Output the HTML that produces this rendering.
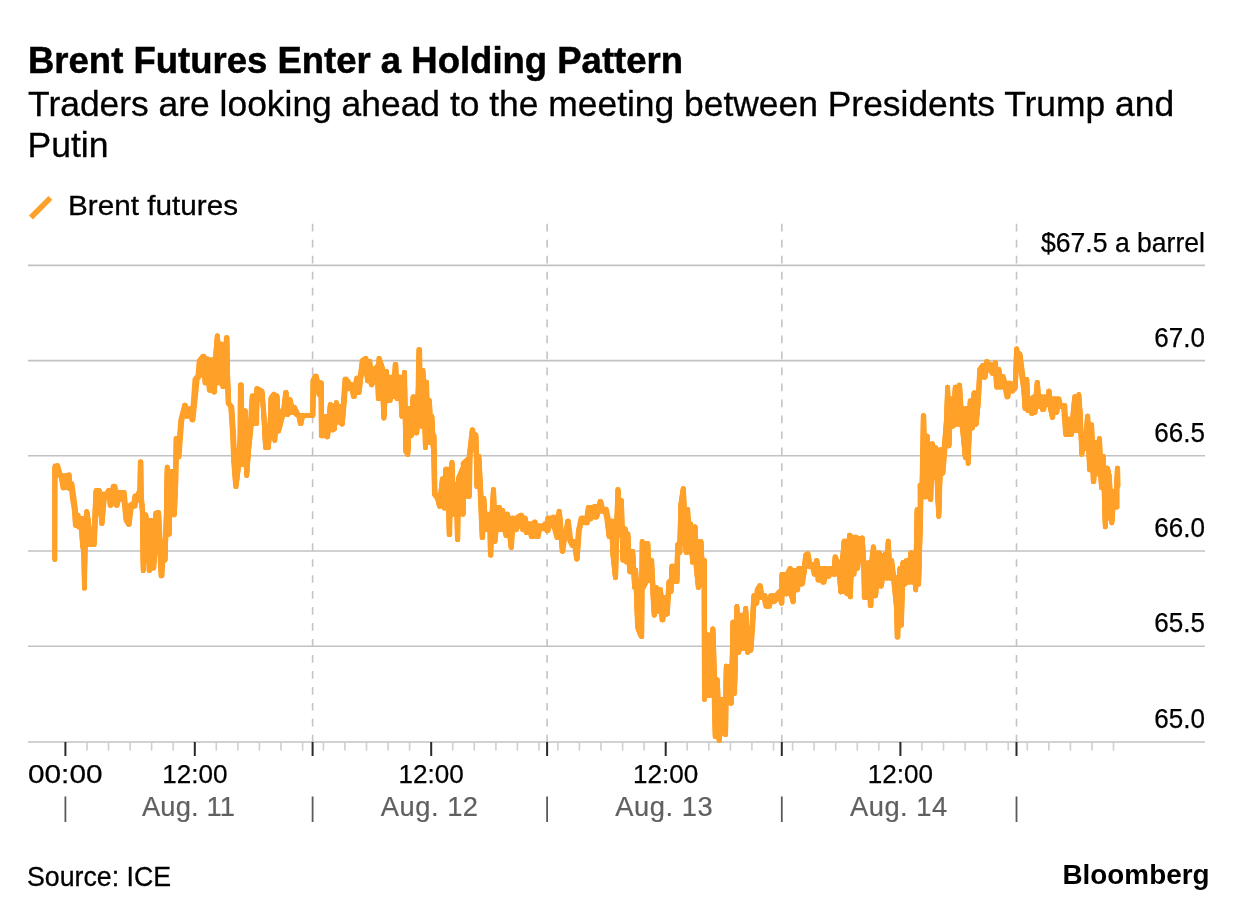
<!DOCTYPE html>
<html lang="en"><head><meta charset="utf-8"><title>Brent Futures Enter a Holding Pattern</title>
<style>
html,body{margin:0;padding:0;background:#fff;}
body{width:1237px;height:918px;overflow:hidden;}
svg{display:block;font-family:"Liberation Sans",Arial,Helvetica,sans-serif;}
.t{fill:#000;}
.g{fill:#606060;}
</style></head><body>
<svg width="1237" height="918" viewBox="0 0 1237 918">
<rect width="1237" height="918" fill="#fff"/>

<text class="t" x="28" y="72.8" font-size="37.2" font-weight="700" stroke="#000" stroke-width="0.5" textLength="655" lengthAdjust="spacingAndGlyphs">Brent Futures Enter a Holding Pattern</text>
<text class="t" x="28.1" y="115.5" font-size="35" stroke="#000" stroke-width="0.3" textLength="1146" lengthAdjust="spacingAndGlyphs">Traders are looking ahead to the meeting between Presidents Trump and</text>
<text class="t" x="27.5" y="157.1" font-size="35" stroke="#000" stroke-width="0.3" textLength="81" lengthAdjust="spacingAndGlyphs">Putin</text>
<line x1="30.9" y1="217.5" x2="50.4" y2="197.9" stroke="#FFA029" stroke-width="5.6"/>
<text class="t" x="68" y="215.3" font-size="28.4" stroke="#000" stroke-width="0.3" textLength="170" lengthAdjust="spacingAndGlyphs">Brent futures</text>
<line x1="28" y1="265.4" x2="1205" y2="265.4" stroke="#c2c2c2" stroke-width="1.6"/>
<line x1="28" y1="360.6" x2="1205" y2="360.6" stroke="#c2c2c2" stroke-width="1.6"/>
<line x1="28" y1="455.8" x2="1205" y2="455.8" stroke="#c2c2c2" stroke-width="1.6"/>
<line x1="28" y1="551.0" x2="1205" y2="551.0" stroke="#c2c2c2" stroke-width="1.6"/>
<line x1="28" y1="646.3" x2="1205" y2="646.3" stroke="#c2c2c2" stroke-width="1.6"/>
<line x1="312.6" y1="223.8" x2="312.6" y2="742.0" stroke="#c4c4c4" stroke-width="1.6" stroke-dasharray="7.7 8.27"/>
<line x1="547.1" y1="223.8" x2="547.1" y2="742.0" stroke="#c4c4c4" stroke-width="1.6" stroke-dasharray="7.7 8.27"/>
<line x1="781.8" y1="223.8" x2="781.8" y2="742.0" stroke="#c4c4c4" stroke-width="1.6" stroke-dasharray="7.7 8.27"/>
<line x1="1016.5" y1="223.8" x2="1016.5" y2="742.0" stroke="#c4c4c4" stroke-width="1.6" stroke-dasharray="7.7 8.27"/>
<line x1="28" y1="742.0" x2="1205" y2="742.0" stroke="#c2c2c2" stroke-width="1.6"/>
<line x1="87.0" y1="742.0" x2="87.0" y2="750.6" stroke="#cfcfcf" stroke-width="1.6"/>
<line x1="108.5" y1="742.0" x2="108.5" y2="750.6" stroke="#cfcfcf" stroke-width="1.6"/>
<line x1="130.1" y1="742.0" x2="130.1" y2="750.6" stroke="#cfcfcf" stroke-width="1.6"/>
<line x1="151.6" y1="742.0" x2="151.6" y2="750.6" stroke="#cfcfcf" stroke-width="1.6"/>
<line x1="173.2" y1="742.0" x2="173.2" y2="750.6" stroke="#cfcfcf" stroke-width="1.6"/>
<line x1="194.8" y1="742.0" x2="194.8" y2="750.6" stroke="#cfcfcf" stroke-width="1.6"/>
<line x1="216.3" y1="742.0" x2="216.3" y2="750.6" stroke="#cfcfcf" stroke-width="1.6"/>
<line x1="237.9" y1="742.0" x2="237.9" y2="750.6" stroke="#cfcfcf" stroke-width="1.6"/>
<line x1="259.4" y1="742.0" x2="259.4" y2="750.6" stroke="#cfcfcf" stroke-width="1.6"/>
<line x1="281.0" y1="742.0" x2="281.0" y2="750.6" stroke="#cfcfcf" stroke-width="1.6"/>
<line x1="302.6" y1="742.0" x2="302.6" y2="750.6" stroke="#cfcfcf" stroke-width="1.6"/>
<line x1="323.4" y1="742.0" x2="323.4" y2="750.6" stroke="#cfcfcf" stroke-width="1.6"/>
<line x1="344.9" y1="742.0" x2="344.9" y2="750.6" stroke="#cfcfcf" stroke-width="1.6"/>
<line x1="366.5" y1="742.0" x2="366.5" y2="750.6" stroke="#cfcfcf" stroke-width="1.6"/>
<line x1="388.1" y1="742.0" x2="388.1" y2="750.6" stroke="#cfcfcf" stroke-width="1.6"/>
<line x1="409.6" y1="742.0" x2="409.6" y2="750.6" stroke="#cfcfcf" stroke-width="1.6"/>
<line x1="431.2" y1="742.0" x2="431.2" y2="750.6" stroke="#cfcfcf" stroke-width="1.6"/>
<line x1="452.7" y1="742.0" x2="452.7" y2="750.6" stroke="#cfcfcf" stroke-width="1.6"/>
<line x1="474.3" y1="742.0" x2="474.3" y2="750.6" stroke="#cfcfcf" stroke-width="1.6"/>
<line x1="495.9" y1="742.0" x2="495.9" y2="750.6" stroke="#cfcfcf" stroke-width="1.6"/>
<line x1="517.4" y1="742.0" x2="517.4" y2="750.6" stroke="#cfcfcf" stroke-width="1.6"/>
<line x1="539.0" y1="742.0" x2="539.0" y2="750.6" stroke="#cfcfcf" stroke-width="1.6"/>
<line x1="557.9" y1="742.0" x2="557.9" y2="750.6" stroke="#cfcfcf" stroke-width="1.6"/>
<line x1="579.4" y1="742.0" x2="579.4" y2="750.6" stroke="#cfcfcf" stroke-width="1.6"/>
<line x1="601.0" y1="742.0" x2="601.0" y2="750.6" stroke="#cfcfcf" stroke-width="1.6"/>
<line x1="622.6" y1="742.0" x2="622.6" y2="750.6" stroke="#cfcfcf" stroke-width="1.6"/>
<line x1="644.1" y1="742.0" x2="644.1" y2="750.6" stroke="#cfcfcf" stroke-width="1.6"/>
<line x1="665.7" y1="742.0" x2="665.7" y2="750.6" stroke="#cfcfcf" stroke-width="1.6"/>
<line x1="687.2" y1="742.0" x2="687.2" y2="750.6" stroke="#cfcfcf" stroke-width="1.6"/>
<line x1="708.8" y1="742.0" x2="708.8" y2="750.6" stroke="#cfcfcf" stroke-width="1.6"/>
<line x1="730.4" y1="742.0" x2="730.4" y2="750.6" stroke="#cfcfcf" stroke-width="1.6"/>
<line x1="751.9" y1="742.0" x2="751.9" y2="750.6" stroke="#cfcfcf" stroke-width="1.6"/>
<line x1="773.5" y1="742.0" x2="773.5" y2="750.6" stroke="#cfcfcf" stroke-width="1.6"/>
<line x1="792.6" y1="742.0" x2="792.6" y2="750.6" stroke="#cfcfcf" stroke-width="1.6"/>
<line x1="814.1" y1="742.0" x2="814.1" y2="750.6" stroke="#cfcfcf" stroke-width="1.6"/>
<line x1="835.7" y1="742.0" x2="835.7" y2="750.6" stroke="#cfcfcf" stroke-width="1.6"/>
<line x1="857.3" y1="742.0" x2="857.3" y2="750.6" stroke="#cfcfcf" stroke-width="1.6"/>
<line x1="878.8" y1="742.0" x2="878.8" y2="750.6" stroke="#cfcfcf" stroke-width="1.6"/>
<line x1="900.4" y1="742.0" x2="900.4" y2="750.6" stroke="#cfcfcf" stroke-width="1.6"/>
<line x1="921.9" y1="742.0" x2="921.9" y2="750.6" stroke="#cfcfcf" stroke-width="1.6"/>
<line x1="943.5" y1="742.0" x2="943.5" y2="750.6" stroke="#cfcfcf" stroke-width="1.6"/>
<line x1="965.1" y1="742.0" x2="965.1" y2="750.6" stroke="#cfcfcf" stroke-width="1.6"/>
<line x1="986.6" y1="742.0" x2="986.6" y2="750.6" stroke="#cfcfcf" stroke-width="1.6"/>
<line x1="1008.2" y1="742.0" x2="1008.2" y2="750.6" stroke="#cfcfcf" stroke-width="1.6"/>
<line x1="1027.3" y1="742.0" x2="1027.3" y2="750.6" stroke="#cfcfcf" stroke-width="1.6"/>
<line x1="1048.8" y1="742.0" x2="1048.8" y2="750.6" stroke="#cfcfcf" stroke-width="1.6"/>
<line x1="1070.4" y1="742.0" x2="1070.4" y2="750.6" stroke="#cfcfcf" stroke-width="1.6"/>
<line x1="1092.0" y1="742.0" x2="1092.0" y2="750.6" stroke="#cfcfcf" stroke-width="1.6"/>
<line x1="1113.5" y1="742.0" x2="1113.5" y2="750.6" stroke="#cfcfcf" stroke-width="1.6"/>
<line x1="65.4" y1="742.0" x2="65.4" y2="756" stroke="#2a2a2a" stroke-width="2"/>
<line x1="194.8" y1="742.0" x2="194.8" y2="756" stroke="#2a2a2a" stroke-width="2"/>
<line x1="312.6" y1="742.0" x2="312.6" y2="756" stroke="#2a2a2a" stroke-width="2"/>
<line x1="547.1" y1="742.0" x2="547.1" y2="756" stroke="#2a2a2a" stroke-width="2"/>
<line x1="781.8" y1="742.0" x2="781.8" y2="756" stroke="#2a2a2a" stroke-width="2"/>
<line x1="1016.5" y1="742.0" x2="1016.5" y2="756" stroke="#2a2a2a" stroke-width="2"/>
<line x1="431.2" y1="742.0" x2="431.2" y2="756" stroke="#2a2a2a" stroke-width="2"/>
<line x1="665.7" y1="742.0" x2="665.7" y2="756" stroke="#2a2a2a" stroke-width="2"/>
<line x1="900.4" y1="742.0" x2="900.4" y2="756" stroke="#2a2a2a" stroke-width="2"/>
<path d="M54.8 465.8 L55.3 465.8 L55.8 465.8 L56.3 465.8 L56.8 465.8 L57.3 465.8 L57.8 466.6 L58.3 469.2 L58.8 471.8 L59.3 473.4 L59.8 474.0 L60.3 474.6 L60.8 475.1 L61.3 475.6 L61.8 475.6 L62.3 475.6 L62.8 475.6 L63.3 475.6 L63.8 475.6 L64.3 475.6 L64.8 475.6 L65.3 475.6 L65.8 475.6 L66.3 475.6 L66.8 475.4 L67.3 475.3 L67.8 475.1 L68.3 475.0 L68.8 474.9 L69.3 479.2 L69.8 483.6 L70.3 483.6 L70.8 483.6 L71.3 483.6 L71.8 484.8 L72.3 488.9 L72.8 493.0 L73.3 497.1 L73.8 500.6 L74.3 503.9 L74.8 507.3 L75.3 512.6 L75.8 514.9 L76.3 514.9 L76.8 514.9 L77.3 514.9 L77.8 515.3 L78.3 518.4 L78.8 518.4 L79.3 518.4 L79.8 518.4 L80.3 518.4 L80.8 518.4 L81.3 518.4 L81.8 518.4 L82.3 518.4 L82.8 518.4 L83.3 518.4 L83.8 518.4 L84.3 518.4 L84.8 518.4 L85.3 518.4 L85.8 518.4 L86.3 513.8 L86.8 511.5 L87.3 513.5 L87.8 516.4 L88.3 519.3 L88.8 522.6 L89.3 529.2 L89.8 529.2 L90.3 529.2 L90.8 529.2 L91.3 529.2 L91.8 529.2 L92.3 529.2 L92.8 529.2 L93.3 529.2 L93.8 529.2 L94.3 529.2 L94.8 518.4 L95.3 505.6 L95.8 491.9 L96.3 490.5 L96.8 490.5 L97.3 490.5 L97.8 490.5 L98.3 490.5 L98.8 490.5 L99.3 490.5 L99.8 493.9 L100.3 494.0 L100.8 494.0 L101.3 494.0 L101.8 494.0 L102.3 494.0 L102.8 494.0 L103.3 494.0 L103.8 494.0 L104.3 494.0 L104.8 494.0 L105.3 494.0 L105.8 494.0 L106.3 494.0 L106.8 494.0 L107.3 493.9 L107.8 492.5 L108.3 491.2 L108.8 490.5 L109.3 490.5 L109.8 490.5 L110.3 490.5 L110.8 490.5 L111.3 490.5 L111.8 490.5 L112.3 490.5 L112.8 489.8 L113.3 488.1 L113.8 486.4 L114.3 486.2 L114.8 487.8 L115.3 489.6 L115.8 491.4 L116.3 492.3 L116.8 492.3 L117.3 492.3 L117.8 492.3 L118.3 492.3 L118.8 492.3 L119.3 492.3 L119.8 492.3 L120.3 492.3 L120.8 492.3 L121.3 492.3 L121.8 492.3 L122.3 492.3 L122.8 492.3 L123.3 492.3 L123.8 492.3 L124.3 495.9 L124.8 501.0 L125.3 506.1 L125.8 506.4 L126.3 506.4 L126.8 506.4 L127.3 506.4 L127.8 506.4 L128.3 506.4 L128.8 506.4 L129.3 506.4 L129.8 506.4 L130.3 506.4 L130.8 506.4 L131.3 504.5 L131.8 504.5 L132.3 504.5 L132.8 504.5 L133.3 504.5 L133.8 504.5 L134.3 503.6 L134.8 500.7 L135.3 497.8 L135.8 495.8 L136.3 495.8 L136.8 495.8 L137.3 495.8 L137.8 495.8 L138.3 495.7 L138.8 493.4 L139.3 492.3 L139.8 492.3 L140.3 464.8 L140.8 461.8 L141.3 497.9 L141.8 502.0 L142.3 506.0 L142.8 514.1 L143.3 514.9 L143.8 514.9 L144.3 514.9 L144.8 514.9 L145.3 514.9 L145.8 514.9 L146.3 517.6 L146.8 520.2 L147.3 520.2 L147.8 520.2 L148.3 520.2 L148.8 520.2 L149.3 520.2 L149.8 520.2 L150.3 520.2 L150.8 520.2 L151.3 520.2 L151.8 520.2 L152.3 520.2 L152.8 520.2 L153.3 520.2 L153.8 520.2 L154.3 520.2 L154.8 520.2 L155.3 520.2 L155.8 513.1 L156.3 513.0 L156.8 512.8 L157.3 512.6 L157.8 512.5 L158.3 512.3 L158.8 513.5 L159.3 525.0 L159.8 536.5 L160.3 541.7 L160.8 541.7 L161.3 541.7 L161.8 541.7 L162.3 541.7 L162.8 541.7 L163.3 541.7 L163.8 541.7 L164.3 541.7 L164.8 541.7 L165.3 541.7 L165.8 524.9 L166.3 506.6 L166.8 476.1 L167.3 467.0 L167.8 471.4 L168.3 471.4 L168.8 471.4 L169.3 471.4 L169.8 471.4 L170.3 471.4 L170.8 471.4 L171.3 471.4 L171.8 471.4 L172.3 471.4 L172.8 471.4 L173.3 471.4 L173.8 471.4 L174.3 471.4 L174.8 471.4 L175.3 471.4 L175.8 454.6 L176.3 438.5 L176.8 438.5 L177.3 438.5 L177.8 438.5 L178.3 438.5 L178.8 438.5 L179.3 438.5 L179.8 436.5 L180.3 429.9 L180.8 423.3 L181.3 419.0 L181.8 417.0 L182.3 415.0 L182.8 413.0 L183.3 411.0 L183.8 409.0 L184.3 407.0 L184.8 405.2 L185.3 405.5 L185.8 408.4 L186.3 408.9 L186.8 408.9 L187.3 408.9 L187.8 408.9 L188.3 408.9 L188.8 408.9 L189.3 408.9 L189.8 408.9 L190.3 408.9 L190.8 408.9 L191.3 408.9 L191.8 408.9 L192.3 408.9 L192.8 408.9 L193.3 407.7 L193.8 402.3 L194.3 396.8 L194.8 391.1 L195.3 385.5 L195.8 379.9 L196.3 378.7 L196.8 378.0 L197.3 377.4 L197.8 376.7 L198.3 376.1 L198.8 373.1 L199.3 364.8 L199.8 360.4 L200.3 359.8 L200.8 359.1 L201.3 358.5 L201.8 357.9 L202.3 357.3 L202.8 356.7 L203.3 356.1 L203.8 356.8 L204.3 358.9 L204.8 358.9 L205.3 358.9 L205.8 358.9 L206.3 358.9 L206.8 358.9 L207.3 358.9 L207.8 359.8 L208.3 359.8 L208.8 359.8 L209.3 359.8 L209.8 359.8 L210.3 359.8 L210.8 359.8 L211.3 359.8 L211.8 359.8 L212.3 359.8 L212.8 359.8 L213.3 359.8 L213.8 359.8 L214.3 359.8 L214.8 359.8 L215.3 359.8 L215.8 354.4 L216.3 347.5 L216.8 340.6 L217.3 335.7 L217.8 339.4 L218.3 344.1 L218.8 344.1 L219.3 344.1 L219.8 344.1 L220.3 344.1 L220.8 344.1 L221.3 344.1 L221.8 344.1 L222.3 344.1 L222.8 344.1 L223.3 344.1 L223.8 344.1 L224.3 344.1 L224.8 344.1 L225.3 344.1 L225.8 344.1 L226.3 344.1 L226.8 337.6 L227.3 356.6 L227.8 379.4 L228.3 392.0 L228.8 403.4 L229.3 404.0 L229.8 404.7 L230.3 405.3 L230.8 406.0 L231.3 406.7 L231.8 410.9 L232.3 418.6 L232.8 426.3 L233.3 434.0 L233.8 446.5 L234.3 450.2 L234.8 450.2 L235.3 450.2 L235.8 450.2 L236.3 450.2 L236.8 450.2 L237.3 450.2 L237.8 450.2 L238.3 450.2 L238.8 450.2 L239.3 450.2 L239.8 445.0 L240.3 433.4 L240.8 384.8 L241.3 401.5 L241.8 410.7 L242.3 410.7 L242.8 410.7 L243.3 410.7 L243.8 410.7 L244.3 410.7 L244.8 410.7 L245.3 410.7 L245.8 421.6 L246.3 421.6 L246.8 421.6 L247.3 421.6 L247.8 421.6 L248.3 421.6 L248.8 421.6 L249.3 421.6 L249.8 421.6 L250.3 421.6 L250.8 421.6 L251.3 413.3 L251.8 405.0 L252.3 396.7 L252.8 395.9 L253.3 395.9 L253.8 395.9 L254.3 395.9 L254.8 395.9 L255.3 395.9 L255.8 395.9 L256.3 395.9 L256.8 388.5 L257.3 388.5 L257.8 388.8 L258.3 389.1 L258.8 389.4 L259.3 389.7 L259.8 390.0 L260.3 390.2 L260.8 390.5 L261.3 390.8 L261.8 391.1 L262.3 393.1 L262.8 399.0 L263.3 404.9 L263.8 410.8 L264.3 419.1 L264.8 425.6 L265.3 425.6 L265.8 425.6 L266.3 425.6 L266.8 425.6 L267.3 425.6 L267.8 425.6 L268.3 425.6 L268.8 425.6 L269.3 425.6 L269.8 425.6 L270.3 413.6 L270.8 399.2 L271.3 397.2 L271.8 396.5 L272.3 395.9 L272.8 395.2 L273.3 394.6 L273.8 394.1 L274.3 395.9 L274.8 395.9 L275.3 395.9 L275.8 395.9 L276.3 395.9 L276.8 395.9 L277.3 397.1 L277.8 408.8 L278.3 411.1 L278.8 411.1 L279.3 411.1 L279.8 411.1 L280.3 411.1 L280.8 411.1 L281.3 411.1 L281.8 411.1 L282.3 411.1 L282.8 411.1 L283.3 411.1 L283.8 409.1 L284.3 404.7 L284.8 400.1 L285.3 395.4 L285.8 392.2 L286.3 394.0 L286.8 399.6 L287.3 399.6 L287.8 399.6 L288.3 399.6 L288.8 399.6 L289.3 399.6 L289.8 399.6 L290.3 401.7 L290.8 404.0 L291.3 406.3 L291.8 407.0 L292.3 407.0 L292.8 407.0 L293.3 407.0 L293.8 407.5 L294.3 408.5 L294.8 409.5 L295.3 410.5 L295.8 411.5 L296.3 412.5 L296.8 413.5 L297.3 414.4 L297.8 414.8 L298.3 415.1 L298.8 415.4 L299.3 415.4 L299.8 415.4 L300.3 415.4 L300.8 415.4 L301.3 415.4 L301.8 415.4 L302.3 415.4 L302.8 415.4 L303.3 415.4 L303.8 415.4 L304.3 415.4 L304.8 415.4 L305.3 415.4 L305.8 415.4 L306.3 415.4 L306.8 415.4 L307.3 415.4 L307.8 415.4 L308.3 415.4 L308.8 415.4 L309.3 415.4 L309.8 415.4 L310.3 415.4 L310.8 415.4 L311.3 415.4 L311.8 415.4 L312.3 415.4 L312.8 398.2 L313.3 380.5 L313.8 379.5 L314.3 378.4 L314.8 377.4 L315.3 376.4 L315.8 376.1 L316.3 377.7 L316.8 380.0 L317.3 382.4 L317.8 382.9 L318.3 382.9 L318.8 382.9 L319.3 382.9 L319.8 382.9 L320.3 382.9 L320.8 382.9 L321.3 382.9 L321.8 416.3 L322.3 416.3 L322.8 416.3 L323.3 416.3 L323.8 416.3 L324.3 416.3 L324.8 416.3 L325.3 416.3 L325.8 416.3 L326.3 416.3 L326.8 416.3 L327.3 416.3 L327.8 416.3 L328.3 416.3 L328.8 416.3 L329.3 414.0 L329.8 408.4 L330.3 404.5 L330.8 405.8 L331.3 405.8 L331.8 405.8 L332.3 405.8 L332.8 405.8 L333.3 405.8 L333.8 405.8 L334.3 405.8 L334.8 405.8 L335.3 405.8 L335.8 405.8 L336.3 402.5 L336.8 403.3 L337.3 404.8 L337.8 406.4 L338.3 406.4 L338.8 406.4 L339.3 406.4 L339.8 406.4 L340.3 406.4 L340.8 406.4 L341.3 406.4 L341.8 406.4 L342.3 406.4 L342.8 406.4 L343.3 406.0 L343.8 399.3 L344.3 392.3 L344.8 385.3 L345.3 379.0 L345.8 379.1 L346.3 379.7 L346.8 380.3 L347.3 380.9 L347.8 381.5 L348.3 382.2 L348.8 383.9 L349.3 384.9 L349.8 384.9 L350.3 384.9 L350.8 384.9 L351.3 384.9 L351.8 384.9 L352.3 384.9 L352.8 384.9 L353.3 384.9 L353.8 384.9 L354.3 384.9 L354.8 384.9 L355.3 384.9 L355.8 383.3 L356.3 380.2 L356.8 378.0 L357.3 378.0 L357.8 378.0 L358.3 378.0 L358.8 378.0 L359.3 378.0 L359.8 378.0 L360.3 377.3 L360.8 373.2 L361.3 369.3 L361.8 365.4 L362.3 361.6 L362.8 360.2 L363.3 359.8 L363.8 359.5 L364.3 359.2 L364.8 358.8 L365.3 358.5 L365.8 358.4 L366.3 361.4 L366.8 361.4 L367.3 361.4 L367.8 361.4 L368.3 361.4 L368.8 361.4 L369.3 361.4 L369.8 361.4 L370.3 366.7 L370.8 368.5 L371.3 368.5 L371.8 368.5 L372.3 368.5 L372.8 368.5 L373.3 368.5 L373.8 368.5 L374.3 368.5 L374.8 368.5 L375.3 368.5 L375.8 368.5 L376.3 367.9 L376.8 367.2 L377.3 366.5 L377.8 366.3 L378.3 366.3 L378.8 361.3 L379.3 358.4 L379.8 359.9 L380.3 361.5 L380.8 363.1 L381.3 364.8 L381.8 366.4 L382.3 368.1 L382.8 371.2 L383.3 371.2 L383.8 371.2 L384.3 371.2 L384.8 371.2 L385.3 371.2 L385.8 371.2 L386.3 371.2 L386.8 374.3 L387.3 377.1 L387.8 377.1 L388.3 377.1 L388.8 377.1 L389.3 377.1 L389.8 377.1 L390.3 377.1 L390.8 377.1 L391.3 377.1 L391.8 377.1 L392.3 377.1 L392.8 377.1 L393.3 377.1 L393.8 377.1 L394.3 377.1 L394.8 372.4 L395.3 364.3 L395.8 365.4 L396.3 376.1 L396.8 377.1 L397.3 377.1 L397.8 377.1 L398.3 377.1 L398.8 377.1 L399.3 377.1 L399.8 377.1 L400.3 377.1 L400.8 377.1 L401.3 377.1 L401.8 377.1 L402.3 377.1 L402.8 377.1 L403.3 377.1 L403.8 377.1 L404.3 372.2 L404.8 375.0 L405.3 403.4 L405.8 408.4 L406.3 408.4 L406.8 408.4 L407.3 408.4 L407.8 408.4 L408.3 408.4 L408.8 408.4 L409.3 408.4 L409.8 408.4 L410.3 408.4 L410.8 408.4 L411.3 408.4 L411.8 408.4 L412.3 408.0 L412.8 397.7 L413.3 396.7 L413.8 396.7 L414.3 396.7 L414.8 396.7 L415.3 396.7 L415.8 396.7 L416.3 396.7 L416.8 396.7 L417.3 396.7 L417.8 396.7 L418.3 386.0 L418.8 358.0 L419.3 349.6 L419.8 369.2 L420.3 370.2 L420.8 370.2 L421.3 370.2 L421.8 370.2 L422.3 370.2 L422.8 370.2 L423.3 373.8 L423.8 382.0 L424.3 382.0 L424.8 382.0 L425.3 382.0 L425.8 382.0 L426.3 382.0 L426.8 384.3 L427.3 400.6 L427.8 400.6 L428.3 400.6 L428.8 400.6 L429.3 400.6 L429.8 405.3 L430.3 416.3 L430.8 416.3 L431.3 416.3 L431.8 416.3 L432.3 421.5 L432.8 432.0 L433.3 435.7 L433.8 435.7 L434.3 456.3 L434.8 485.7 L435.3 495.0 L435.8 495.0 L436.3 495.0 L436.8 495.0 L437.3 495.0 L437.8 495.0 L438.3 495.0 L438.8 495.0 L439.3 495.0 L439.8 495.0 L440.3 495.0 L440.8 492.6 L441.3 487.8 L441.8 483.1 L442.3 478.8 L442.8 478.8 L443.3 478.8 L443.8 478.8 L444.3 478.8 L444.8 478.8 L445.3 478.8 L445.8 469.0 L446.3 469.0 L446.8 469.0 L447.3 469.0 L447.8 469.0 L448.3 469.0 L448.8 469.0 L449.3 469.0 L449.8 469.0 L450.3 469.0 L450.8 469.0 L451.3 467.5 L451.8 462.2 L452.3 464.2 L452.8 484.2 L453.3 484.2 L453.8 484.2 L454.3 484.2 L454.8 484.2 L455.3 484.2 L455.8 484.2 L456.3 484.2 L456.8 484.2 L457.3 484.2 L457.8 484.2 L458.3 478.2 L458.8 477.0 L459.3 475.8 L459.8 474.6 L460.3 473.4 L460.8 472.2 L461.3 471.0 L461.8 469.8 L462.3 469.0 L462.8 469.0 L463.3 469.0 L463.8 462.9 L464.3 462.5 L464.8 462.0 L465.3 461.6 L465.8 461.1 L466.3 460.7 L466.8 460.3 L467.3 459.9 L467.8 459.4 L468.3 459.2 L468.8 459.2 L469.3 459.2 L469.8 452.1 L470.3 447.6 L470.8 443.0 L471.3 438.5 L471.8 433.9 L472.3 429.8 L472.8 430.5 L473.3 434.7 L473.8 434.7 L474.3 434.7 L474.8 434.7 L475.3 434.7 L475.8 434.7 L476.3 442.5 L476.8 456.3 L477.3 456.3 L477.8 456.3 L478.3 456.3 L478.8 456.3 L479.3 461.6 L479.8 472.1 L480.3 482.6 L480.8 493.1 L481.3 498.4 L481.8 498.4 L482.3 498.4 L482.8 498.4 L483.3 498.4 L483.8 498.4 L484.3 503.9 L484.8 511.7 L485.3 514.1 L485.8 514.1 L486.3 514.1 L486.8 514.1 L487.3 514.1 L487.8 514.1 L488.3 514.1 L488.8 514.1 L489.3 514.1 L489.8 514.1 L490.3 514.1 L490.8 514.1 L491.3 514.1 L491.8 514.1 L492.3 507.0 L492.8 497.8 L493.3 489.6 L493.8 491.5 L494.3 507.3 L494.8 507.3 L495.3 507.3 L495.8 507.3 L496.3 507.3 L496.8 507.3 L497.3 507.3 L497.8 507.3 L498.3 507.3 L498.8 507.3 L499.3 507.3 L499.8 509.7 L500.3 510.2 L500.8 510.2 L501.3 510.2 L501.8 510.2 L502.3 510.2 L502.8 511.4 L503.3 514.1 L503.8 514.1 L504.3 514.1 L504.8 514.1 L505.3 514.1 L505.8 514.1 L506.3 514.1 L506.8 514.1 L507.3 514.1 L507.8 515.9 L508.3 518.0 L508.8 518.0 L509.3 518.0 L509.8 518.0 L510.3 518.0 L510.8 518.0 L511.3 518.0 L511.8 518.0 L512.3 518.0 L512.8 518.0 L513.3 518.0 L513.8 518.0 L514.3 518.0 L514.8 518.0 L515.3 518.0 L515.8 518.0 L516.3 518.0 L516.8 518.0 L517.3 518.0 L517.8 517.1 L518.3 516.7 L518.8 516.4 L519.3 516.1 L519.8 515.7 L520.3 515.4 L520.8 515.1 L521.3 515.5 L521.8 518.0 L522.3 518.0 L522.8 518.0 L523.3 518.0 L523.8 518.0 L524.3 518.0 L524.8 518.0 L525.3 519.1 L525.8 522.8 L526.3 523.9 L526.8 523.9 L527.3 523.9 L527.8 523.9 L528.3 523.9 L528.8 523.9 L529.3 523.9 L529.8 523.9 L530.3 523.9 L530.8 523.9 L531.3 523.9 L531.8 523.9 L532.3 523.9 L532.8 523.9 L533.3 523.9 L533.8 523.9 L534.3 522.8 L534.8 522.0 L535.3 523.8 L535.8 525.9 L536.3 525.9 L536.8 525.9 L537.3 525.9 L537.8 525.9 L538.3 525.9 L538.8 525.9 L539.3 525.9 L539.8 525.9 L540.3 525.9 L540.8 525.9 L541.3 525.9 L541.8 525.9 L542.3 525.9 L542.8 525.9 L543.3 525.9 L543.8 525.9 L544.3 525.5 L544.8 524.6 L545.3 523.9 L545.8 523.9 L546.3 523.9 L546.8 523.9 L547.3 523.9 L547.8 523.0 L548.3 518.0 L548.8 518.0 L549.3 518.0 L549.8 518.0 L550.3 518.0 L550.8 518.0 L551.3 518.0 L551.8 518.0 L552.3 518.0 L552.8 517.9 L553.3 517.1 L553.8 517.1 L554.3 517.1 L554.8 517.1 L555.3 517.1 L555.8 517.1 L556.3 517.1 L556.8 517.1 L557.3 517.1 L557.8 517.1 L558.3 517.1 L558.8 513.3 L559.3 511.2 L559.8 515.1 L560.3 520.8 L560.8 526.4 L561.3 532.0 L561.8 532.0 L562.3 532.0 L562.8 532.0 L563.3 532.0 L563.8 532.0 L564.3 532.0 L564.8 532.0 L565.3 532.0 L565.8 532.0 L566.3 532.0 L566.8 528.4 L567.3 524.5 L567.8 521.0 L568.3 521.5 L568.8 526.1 L569.3 530.8 L569.8 535.4 L570.3 539.7 L570.8 540.7 L571.3 541.6 L571.8 541.6 L572.3 541.6 L572.8 541.6 L573.3 541.6 L573.8 541.6 L574.3 541.6 L574.8 541.6 L575.3 541.6 L575.8 541.6 L576.3 541.6 L576.8 541.6 L577.3 541.6 L577.8 541.6 L578.3 534.5 L578.8 529.7 L579.3 527.6 L579.8 525.5 L580.3 523.3 L580.8 521.2 L581.3 519.1 L581.8 518.0 L582.3 518.0 L582.8 518.0 L583.3 518.0 L583.8 518.0 L584.3 518.0 L584.8 518.0 L585.3 518.0 L585.8 518.0 L586.3 518.0 L586.8 518.0 L587.3 515.9 L587.8 511.8 L588.3 507.7 L588.8 507.3 L589.3 507.3 L589.8 507.3 L590.3 507.3 L590.8 507.3 L591.3 507.3 L591.8 507.3 L592.3 507.3 L592.8 507.3 L593.3 507.3 L593.8 507.3 L594.3 506.3 L594.8 506.3 L595.3 506.3 L595.8 506.3 L596.3 506.3 L596.8 506.3 L597.3 506.3 L597.8 506.3 L598.3 506.3 L598.8 506.3 L599.3 504.8 L599.8 502.8 L600.3 501.4 L600.8 502.1 L601.3 504.6 L601.8 507.0 L602.3 509.2 L602.8 509.2 L603.3 509.2 L603.8 509.2 L604.3 509.2 L604.8 509.2 L605.3 509.2 L605.8 510.2 L606.3 512.2 L606.8 514.1 L607.3 516.1 L607.8 519.7 L608.3 521.0 L608.8 521.0 L609.3 521.0 L609.8 521.0 L610.3 521.0 L610.8 521.0 L611.3 521.0 L611.8 521.0 L612.3 521.0 L612.8 521.0 L613.3 521.0 L613.8 521.0 L614.3 521.0 L614.8 521.0 L615.3 521.0 L615.8 521.0 L616.3 521.0 L616.8 518.2 L617.3 503.2 L617.8 489.6 L618.3 490.3 L618.8 497.7 L619.3 500.4 L619.8 500.4 L620.3 500.4 L620.8 500.4 L621.3 500.4 L621.8 506.4 L622.3 526.3 L622.8 528.8 L623.3 528.8 L623.8 528.8 L624.3 528.8 L624.8 528.8 L625.3 531.3 L625.8 533.7 L626.3 533.7 L626.8 533.7 L627.3 533.7 L627.8 533.7 L628.3 538.5 L628.8 548.1 L629.3 551.4 L629.8 551.4 L630.3 551.4 L630.8 551.4 L631.3 551.4 L631.8 551.4 L632.3 551.4 L632.8 551.4 L633.3 557.7 L633.8 566.8 L634.3 570.0 L634.8 570.0 L635.3 570.0 L635.8 570.0 L636.3 580.5 L636.8 580.5 L637.3 580.5 L637.8 580.5 L638.3 580.5 L638.8 580.5 L639.3 580.5 L639.8 580.5 L640.3 580.5 L640.8 580.5 L641.3 580.5 L641.8 565.4 L642.3 541.6 L642.8 543.5 L643.3 543.5 L643.8 543.5 L644.3 543.5 L644.8 543.5 L645.3 543.5 L645.8 543.5 L646.3 543.5 L646.8 543.5 L647.3 543.5 L647.8 543.5 L648.3 553.7 L648.8 560.2 L649.3 560.2 L649.8 560.2 L650.3 560.2 L650.8 560.2 L651.3 560.2 L651.8 563.1 L652.3 573.0 L652.8 582.8 L653.3 587.6 L653.8 587.6 L654.3 587.6 L654.8 587.6 L655.3 587.6 L655.8 587.6 L656.3 587.6 L656.8 589.6 L657.3 589.6 L657.8 589.6 L658.3 589.6 L658.8 589.6 L659.3 589.6 L659.8 589.6 L660.3 589.6 L660.8 594.2 L661.3 597.5 L661.8 597.5 L662.3 597.5 L662.8 597.5 L663.3 597.5 L663.8 597.5 L664.3 597.5 L664.8 597.5 L665.3 597.5 L665.8 597.5 L666.3 597.5 L666.8 597.5 L667.3 597.5 L667.8 597.5 L668.3 589.5 L668.8 581.8 L669.3 581.8 L669.8 581.8 L670.3 581.8 L670.8 581.8 L671.3 577.6 L671.8 566.1 L672.3 566.1 L672.8 566.1 L673.3 566.1 L673.8 566.1 L674.3 566.1 L674.8 566.1 L675.3 566.1 L675.8 566.1 L676.3 566.1 L676.8 566.1 L677.3 554.9 L677.8 544.5 L678.3 544.5 L678.8 544.5 L679.3 544.5 L679.8 540.6 L680.3 517.1 L680.8 503.6 L681.3 500.3 L681.8 497.0 L682.3 493.6 L682.8 490.3 L683.3 488.6 L683.8 495.8 L684.3 509.2 L684.8 509.2 L685.3 509.2 L685.8 509.2 L686.3 509.2 L686.8 509.2 L687.3 509.2 L687.8 509.2 L688.3 518.0 L688.8 523.9 L689.3 523.9 L689.8 523.9 L690.3 523.9 L690.8 523.9 L691.3 526.9 L691.8 526.9 L692.3 526.9 L692.8 526.9 L693.3 526.9 L693.8 526.9 L694.3 526.9 L694.8 526.9 L695.3 526.9 L695.8 540.1 L696.3 541.6 L696.8 541.6 L697.3 541.6 L697.8 541.6 L698.3 541.6 L698.8 541.6 L699.3 541.6 L699.8 541.6 L700.3 541.6 L700.8 541.6 L701.3 543.0 L701.8 556.6 L702.3 560.2 L702.8 560.2 L703.3 560.2 L703.8 560.2 L704.3 560.2 L704.8 634.7 L705.3 634.7 L705.8 634.7 L706.3 634.7 L706.8 634.7 L707.3 634.7 L707.8 634.7 L708.3 634.7 L708.8 634.7 L709.3 634.7 L709.8 634.7 L710.3 634.7 L710.8 634.7 L711.3 634.7 L711.8 634.7 L712.3 632.5 L712.8 628.8 L713.3 634.3 L713.8 652.5 L714.3 670.7 L714.8 679.8 L715.3 679.8 L715.8 679.8 L716.3 679.8 L716.8 679.8 L717.3 679.8 L717.8 687.8 L718.3 699.4 L718.8 699.4 L719.3 699.4 L719.8 699.4 L720.3 699.4 L720.8 699.4 L721.3 699.4 L721.8 699.4 L722.3 699.4 L722.8 699.4 L723.3 699.4 L723.8 699.4 L724.3 699.4 L724.8 699.4 L725.3 699.4 L725.8 680.8 L726.3 666.1 L726.8 666.3 L727.3 666.3 L727.8 666.3 L728.3 666.3 L728.8 666.3 L729.3 666.3 L729.8 666.3 L730.3 666.3 L730.8 666.3 L731.3 666.3 L731.8 666.3 L732.3 641.0 L732.8 622.0 L733.3 622.0 L733.8 622.0 L734.3 622.0 L734.8 622.0 L735.3 622.0 L735.8 622.0 L736.3 619.0 L736.8 606.3 L737.3 609.9 L737.8 615.1 L738.3 615.1 L738.8 615.1 L739.3 615.1 L739.8 615.1 L740.3 615.1 L740.8 615.1 L741.3 615.1 L741.8 615.1 L742.3 615.1 L742.8 615.1 L743.3 615.1 L743.8 615.1 L744.3 615.1 L744.8 615.1 L745.3 611.2 L745.8 608.2 L746.3 616.3 L746.8 628.0 L747.3 628.0 L747.8 628.0 L748.3 628.0 L748.8 628.0 L749.3 628.0 L749.8 628.0 L750.3 628.0 L750.8 628.0 L751.3 628.0 L751.8 628.0 L752.3 622.0 L752.8 613.5 L753.3 604.9 L753.8 596.4 L754.3 595.5 L754.8 595.5 L755.3 595.5 L755.8 595.5 L756.3 595.5 L756.8 595.5 L757.3 589.5 L757.8 588.7 L758.3 588.0 L758.8 587.2 L759.3 586.4 L759.8 585.7 L760.3 586.1 L760.8 590.3 L761.3 594.5 L761.8 595.5 L762.3 595.5 L762.8 595.5 L763.3 595.5 L763.8 595.5 L764.3 595.5 L764.8 596.9 L765.3 599.0 L765.8 599.0 L766.3 599.0 L766.8 599.0 L767.3 599.0 L767.8 599.0 L768.3 599.0 L768.8 599.0 L769.3 599.0 L769.8 599.0 L770.3 599.0 L770.8 596.3 L771.3 595.5 L771.8 595.6 L772.3 595.6 L772.8 595.6 L773.3 595.6 L773.8 595.6 L774.3 595.6 L774.8 595.6 L775.3 595.6 L775.8 595.6 L776.3 595.6 L776.8 595.6 L777.3 594.9 L777.8 594.2 L778.3 593.6 L778.8 592.9 L779.3 592.2 L779.8 591.6 L780.3 591.6 L780.8 591.6 L781.3 591.6 L781.8 574.3 L782.3 574.3 L782.8 574.3 L783.3 574.3 L783.8 574.3 L784.3 574.3 L784.8 574.3 L785.3 574.3 L785.8 574.3 L786.3 574.3 L786.8 574.3 L787.3 573.8 L787.8 572.8 L788.3 571.8 L788.8 570.7 L789.3 569.7 L789.8 568.7 L790.3 568.4 L790.8 570.4 L791.3 570.4 L791.8 570.4 L792.3 570.4 L792.8 570.4 L793.3 570.4 L793.8 570.4 L794.3 570.4 L794.8 570.4 L795.3 570.4 L795.8 570.4 L796.3 570.4 L796.8 570.4 L797.3 570.4 L797.8 570.4 L798.3 570.4 L798.8 568.4 L799.3 568.4 L799.8 568.4 L800.3 568.4 L800.8 568.4 L801.3 568.4 L801.8 568.4 L802.3 568.4 L802.8 568.4 L803.3 568.4 L803.8 568.4 L804.3 566.6 L804.8 562.2 L805.3 557.8 L805.8 554.6 L806.3 554.4 L806.8 554.1 L807.3 553.8 L807.8 553.7 L808.3 555.3 L808.8 558.5 L809.3 561.7 L809.8 564.5 L810.3 564.5 L810.8 564.5 L811.3 564.5 L811.8 564.5 L812.3 564.5 L812.8 564.5 L813.3 564.5 L813.8 564.5 L814.3 564.5 L814.8 564.5 L815.3 564.5 L815.8 564.5 L816.3 561.6 L816.8 560.6 L817.3 564.2 L817.8 568.4 L818.3 568.4 L818.8 568.4 L819.3 568.4 L819.8 568.4 L820.3 568.4 L820.8 568.4 L821.3 568.4 L821.8 568.4 L822.3 568.4 L822.8 568.4 L823.3 568.4 L823.8 568.4 L824.3 568.4 L824.8 568.4 L825.3 568.4 L825.8 568.5 L826.3 568.5 L826.8 568.5 L827.3 568.5 L827.8 568.5 L828.3 568.5 L828.8 568.5 L829.3 568.5 L829.8 568.5 L830.3 568.5 L830.8 568.5 L831.3 568.4 L831.8 568.4 L832.3 568.4 L832.8 568.4 L833.3 568.4 L833.8 568.4 L834.3 568.4 L834.8 561.1 L835.3 556.7 L835.8 557.7 L836.3 559.7 L836.8 561.7 L837.3 561.7 L837.8 561.7 L838.3 561.7 L838.8 561.7 L839.3 561.7 L839.8 561.7 L840.3 561.7 L840.8 561.7 L841.3 561.7 L841.8 561.7 L842.3 560.2 L842.8 554.0 L843.3 547.8 L843.8 541.6 L844.3 541.0 L844.8 541.0 L845.3 541.0 L845.8 541.0 L846.3 541.0 L846.8 541.0 L847.3 541.0 L847.8 541.0 L848.3 541.0 L848.8 541.0 L849.3 536.8 L849.8 535.1 L850.3 537.1 L850.8 537.1 L851.3 537.1 L851.8 537.1 L852.3 537.1 L852.8 537.1 L853.3 537.1 L853.8 537.1 L854.3 537.1 L854.8 537.1 L855.3 537.1 L855.8 537.1 L856.3 538.3 L856.8 538.3 L857.3 538.3 L857.8 538.3 L858.3 538.3 L858.8 538.3 L859.3 538.3 L859.8 538.3 L860.3 538.3 L860.8 538.3 L861.3 538.3 L861.8 538.1 L862.3 538.0 L862.8 543.9 L863.3 552.4 L863.8 560.8 L864.3 562.7 L864.8 562.7 L865.3 562.7 L865.8 562.7 L866.3 562.7 L866.8 562.7 L867.3 562.7 L867.8 562.7 L868.3 562.7 L868.8 562.7 L869.3 562.7 L869.8 562.5 L870.3 562.5 L870.8 562.5 L871.3 562.5 L871.8 561.1 L872.3 556.2 L872.8 551.3 L873.3 546.9 L873.8 548.1 L874.3 552.7 L874.8 552.7 L875.3 552.7 L875.8 552.7 L876.3 552.7 L876.8 552.7 L877.3 552.7 L877.8 552.7 L878.3 552.7 L878.8 552.7 L879.3 552.7 L879.8 555.2 L880.3 555.2 L880.8 555.2 L881.3 555.2 L881.8 555.2 L882.3 555.2 L882.8 555.2 L883.3 555.2 L883.8 555.2 L884.3 555.2 L884.8 555.2 L885.3 553.7 L885.8 553.7 L886.3 553.7 L886.8 553.7 L887.3 553.7 L887.8 545.3 L888.3 541.0 L888.8 547.5 L889.3 556.8 L889.8 560.6 L890.3 560.6 L890.8 560.6 L891.3 560.6 L891.8 560.6 L892.3 564.5 L892.8 568.8 L893.3 573.1 L893.8 577.4 L894.3 577.4 L894.8 577.4 L895.3 577.4 L895.8 577.4 L896.3 577.4 L896.8 577.4 L897.3 577.4 L897.8 577.4 L898.3 577.4 L898.8 577.4 L899.3 576.3 L899.8 568.4 L900.3 568.4 L900.8 568.4 L901.3 568.4 L901.8 568.4 L902.3 568.4 L902.8 562.5 L903.3 562.5 L903.8 562.5 L904.3 562.5 L904.8 562.5 L905.3 562.5 L905.8 562.5 L906.3 562.5 L906.8 560.6 L907.3 560.6 L907.8 560.6 L908.3 560.6 L908.8 560.6 L909.3 560.6 L909.8 560.6 L910.3 556.4 L910.8 552.7 L911.3 552.7 L911.8 552.7 L912.3 552.7 L912.8 552.7 L913.3 552.7 L913.8 552.7 L914.3 552.7 L914.8 552.7 L915.3 552.7 L915.8 552.7 L916.3 541.2 L916.8 512.5 L917.3 509.6 L917.8 509.6 L918.3 509.6 L918.8 509.6 L919.3 509.6 L919.8 509.6 L920.3 485.1 L920.8 485.1 L921.3 485.1 L921.8 485.1 L922.3 475.0 L922.8 443.7 L923.3 415.5 L923.8 418.0 L924.3 436.1 L924.8 436.1 L925.3 436.1 L925.8 436.1 L926.3 436.1 L926.8 436.1 L927.3 436.1 L927.8 443.9 L928.3 443.9 L928.8 443.9 L929.3 443.9 L929.8 443.9 L930.3 443.9 L930.8 443.9 L931.3 443.9 L931.8 443.9 L932.3 443.9 L932.8 444.5 L933.3 447.8 L933.8 447.8 L934.3 447.8 L934.8 447.8 L935.3 447.8 L935.8 447.8 L936.3 449.8 L936.8 449.8 L937.3 449.8 L937.8 449.8 L938.3 449.8 L938.8 449.8 L939.3 449.8 L939.8 449.8 L940.3 449.8 L940.8 449.8 L941.3 449.8 L941.8 449.8 L942.3 449.8 L942.8 449.8 L943.3 449.8 L943.8 449.8 L944.3 448.0 L944.8 441.1 L945.3 434.2 L945.8 427.3 L946.3 420.5 L946.8 406.2 L947.3 388.8 L947.8 387.1 L948.3 398.8 L948.8 398.8 L949.3 398.8 L949.8 398.8 L950.3 398.8 L950.8 398.8 L951.3 398.8 L951.8 398.8 L952.3 398.8 L952.8 398.8 L953.3 398.8 L953.8 398.8 L954.3 398.8 L954.8 393.9 L955.3 387.1 L955.8 387.1 L956.3 387.1 L956.8 387.1 L957.3 387.1 L957.8 387.1 L958.3 387.1 L958.8 387.1 L959.3 385.1 L959.8 387.6 L960.3 395.9 L960.8 404.2 L961.3 408.6 L961.8 408.6 L962.3 408.6 L962.8 408.6 L963.3 408.6 L963.8 408.6 L964.3 408.6 L964.8 408.6 L965.3 408.6 L965.8 408.6 L966.3 408.6 L966.8 408.6 L967.3 408.6 L967.8 408.6 L968.3 408.6 L968.8 408.6 L969.3 408.6 L969.8 405.5 L970.3 400.8 L970.8 400.8 L971.3 400.8 L971.8 400.8 L972.3 400.8 L972.8 400.8 L973.3 400.8 L973.8 393.8 L974.3 392.9 L974.8 392.9 L975.3 392.9 L975.8 392.9 L976.3 392.9 L976.8 392.9 L977.3 392.9 L977.8 392.9 L978.3 392.9 L978.8 386.2 L979.3 377.3 L979.8 369.3 L980.3 368.7 L980.8 368.0 L981.3 367.3 L981.8 366.6 L982.3 366.0 L982.8 365.5 L983.3 365.5 L983.8 365.5 L984.3 365.5 L984.8 365.5 L985.3 365.5 L985.8 365.5 L986.3 364.3 L986.8 361.6 L987.3 361.8 L987.8 362.5 L988.3 363.1 L988.8 363.8 L989.3 364.5 L989.8 364.5 L990.3 364.5 L990.8 364.5 L991.3 364.5 L991.8 364.5 L992.3 364.5 L992.8 364.5 L993.3 364.5 L993.8 364.5 L994.3 364.5 L994.8 363.5 L995.3 362.5 L995.8 366.9 L996.3 369.4 L996.8 369.4 L997.3 369.4 L997.8 369.4 L998.3 369.4 L998.8 369.4 L999.3 373.4 L999.8 376.3 L1000.3 376.3 L1000.8 376.3 L1001.3 376.3 L1001.8 376.3 L1002.3 376.3 L1002.8 376.5 L1003.3 378.3 L1003.8 380.1 L1004.3 381.9 L1004.8 383.1 L1005.3 383.1 L1005.8 383.1 L1006.3 383.1 L1006.8 383.1 L1007.3 383.1 L1007.8 383.1 L1008.3 383.1 L1008.8 383.1 L1009.3 383.1 L1009.8 383.5 L1010.3 383.5 L1010.8 383.5 L1011.3 383.5 L1011.8 383.5 L1012.3 383.5 L1012.8 383.5 L1013.3 383.5 L1013.8 383.5 L1014.3 383.5 L1014.8 383.5 L1015.3 380.3 L1015.8 366.6 L1016.3 352.9 L1016.8 348.8 L1017.3 353.6 L1017.8 353.7 L1018.3 353.7 L1018.8 353.7 L1019.3 353.7 L1019.8 353.7 L1020.3 357.4 L1020.8 361.6 L1021.3 365.7 L1021.8 369.9 L1022.3 374.1 L1022.8 377.8 L1023.3 379.2 L1023.8 379.2 L1024.3 379.2 L1024.8 379.2 L1025.3 379.2 L1025.8 379.2 L1026.3 379.2 L1026.8 379.2 L1027.3 387.7 L1027.8 398.8 L1028.3 398.8 L1028.8 398.8 L1029.3 398.8 L1029.8 398.8 L1030.3 398.8 L1030.8 398.8 L1031.3 398.8 L1031.8 398.8 L1032.3 398.8 L1032.8 398.8 L1033.3 398.8 L1033.8 396.9 L1034.3 396.9 L1034.8 396.9 L1035.3 396.9 L1035.8 396.9 L1036.3 391.7 L1036.8 385.4 L1037.3 382.2 L1037.8 386.3 L1038.3 394.4 L1038.8 396.9 L1039.3 396.9 L1039.8 396.9 L1040.3 396.9 L1040.8 396.9 L1041.3 396.9 L1041.8 396.9 L1042.3 396.9 L1042.8 396.9 L1043.3 396.9 L1043.8 396.9 L1044.3 396.9 L1044.8 396.9 L1045.3 396.9 L1045.8 396.9 L1046.3 396.9 L1046.8 396.9 L1047.3 396.9 L1047.8 396.9 L1048.3 395.4 L1048.8 391.0 L1049.3 391.5 L1049.8 397.0 L1050.3 398.8 L1050.8 398.8 L1051.3 398.8 L1051.8 398.8 L1052.3 398.8 L1052.8 398.8 L1053.3 398.8 L1053.8 398.8 L1054.3 398.8 L1054.8 398.8 L1055.3 398.8 L1055.8 398.8 L1056.3 398.8 L1056.8 398.8 L1057.3 398.8 L1057.8 398.8 L1058.3 398.8 L1058.8 399.5 L1059.3 402.0 L1059.8 404.5 L1060.3 405.3 L1060.8 405.3 L1061.3 405.3 L1061.8 405.3 L1062.3 405.3 L1062.8 405.3 L1063.3 405.3 L1063.8 405.3 L1064.3 405.3 L1064.8 411.9 L1065.3 419.0 L1065.8 419.0 L1066.3 419.0 L1066.8 419.0 L1067.3 419.0 L1067.8 419.0 L1068.3 419.0 L1068.8 419.0 L1069.3 419.0 L1069.8 419.0 L1070.3 419.0 L1070.8 419.0 L1071.3 419.0 L1071.8 419.0 L1072.3 419.0 L1072.8 417.3 L1073.3 411.7 L1073.8 406.1 L1074.3 400.4 L1074.8 396.5 L1075.3 396.5 L1075.8 396.5 L1076.3 396.5 L1076.8 396.5 L1077.3 396.5 L1077.8 396.5 L1078.3 396.5 L1078.8 394.5 L1079.3 398.0 L1079.8 405.1 L1080.3 412.2 L1080.8 421.1 L1081.3 434.0 L1081.8 434.0 L1082.3 434.0 L1082.8 434.0 L1083.3 434.0 L1083.8 434.0 L1084.3 434.0 L1084.8 434.0 L1085.3 434.0 L1085.8 434.0 L1086.3 434.0 L1086.8 425.4 L1087.3 416.9 L1087.8 416.1 L1088.3 424.9 L1088.8 424.9 L1089.3 424.9 L1089.8 424.9 L1090.3 424.9 L1090.8 424.9 L1091.3 424.9 L1091.8 424.9 L1092.3 438.4 L1092.8 442.5 L1093.3 442.5 L1093.8 442.5 L1094.3 442.5 L1094.8 442.5 L1095.3 442.5 L1095.8 442.5 L1096.3 442.5 L1096.8 442.5 L1097.3 442.5 L1097.8 442.5 L1098.3 442.5 L1098.8 442.5 L1099.3 438.6 L1099.8 442.3 L1100.3 454.5 L1100.8 456.3 L1101.3 456.3 L1101.8 456.3 L1102.3 456.3 L1102.8 456.3 L1103.3 456.3 L1103.8 465.1 L1104.3 468.0 L1104.8 468.0 L1105.3 468.0 L1105.8 468.0 L1106.3 468.0 L1106.8 468.0 L1107.3 468.0 L1107.8 469.0 L1108.3 471.1 L1108.8 473.2 L1109.3 475.3 L1109.8 482.2 L1110.3 491.3 L1110.8 491.6 L1111.3 491.6 L1111.8 491.6 L1112.3 491.6 L1112.8 491.6 L1113.3 491.6 L1113.8 491.6 L1114.3 491.6 L1114.8 491.6 L1115.3 491.6 L1115.8 491.6 L1116.3 488.7 L1116.8 477.8 L1117.3 468.0 L1117.3 507.3 L1116.8 507.3 L1116.3 507.3 L1115.8 507.3 L1115.3 507.3 L1114.8 507.3 L1114.3 507.3 L1113.8 507.3 L1113.3 507.3 L1112.8 510.5 L1112.3 518.8 L1111.8 522.9 L1111.3 518.4 L1110.8 518.4 L1110.3 518.4 L1109.8 518.4 L1109.3 518.4 L1108.8 518.4 L1108.3 518.4 L1107.8 518.4 L1107.3 518.4 L1106.8 518.4 L1106.3 518.4 L1105.8 519.5 L1105.3 526.9 L1104.8 518.1 L1104.3 500.4 L1103.8 487.6 L1103.3 487.6 L1102.8 487.6 L1102.3 487.6 L1101.8 487.6 L1101.3 487.6 L1100.8 479.0 L1100.3 473.9 L1099.8 473.9 L1099.3 473.9 L1098.8 473.9 L1098.3 473.9 L1097.8 473.9 L1097.3 473.9 L1096.8 473.9 L1096.3 473.9 L1095.8 473.9 L1095.3 473.9 L1094.8 473.9 L1094.3 473.9 L1093.8 480.8 L1093.3 481.8 L1092.8 470.0 L1092.3 470.0 L1091.8 470.0 L1091.3 470.0 L1090.8 470.0 L1090.3 470.0 L1089.8 470.0 L1089.3 468.7 L1088.8 455.2 L1088.3 448.4 L1087.8 448.4 L1087.3 448.4 L1086.8 448.4 L1086.3 448.4 L1085.8 448.4 L1085.3 448.4 L1084.8 448.4 L1084.3 448.4 L1083.8 448.4 L1083.3 448.4 L1082.8 448.4 L1082.3 451.7 L1081.8 454.3 L1081.3 447.7 L1080.8 434.4 L1080.3 430.8 L1079.8 430.8 L1079.3 430.8 L1078.8 430.8 L1078.3 430.8 L1077.8 430.8 L1077.3 430.8 L1076.8 430.8 L1076.3 430.8 L1075.8 430.8 L1075.3 430.8 L1074.8 430.8 L1074.3 430.8 L1073.8 430.8 L1073.3 430.8 L1072.8 430.8 L1072.3 430.8 L1071.8 430.8 L1071.3 434.3 L1070.8 434.7 L1070.3 434.7 L1069.8 434.7 L1069.3 434.7 L1068.8 434.7 L1068.3 434.7 L1067.8 434.7 L1067.3 434.7 L1066.8 434.7 L1066.3 434.7 L1065.8 434.0 L1065.3 426.6 L1064.8 419.3 L1064.3 411.9 L1063.8 406.7 L1063.3 406.7 L1062.8 406.7 L1062.3 406.7 L1061.8 406.7 L1061.3 406.7 L1060.8 406.7 L1060.3 406.7 L1059.8 406.7 L1059.3 406.7 L1058.8 406.7 L1058.3 406.7 L1057.8 406.7 L1057.3 408.5 L1056.8 412.1 L1056.3 412.5 L1055.8 412.5 L1055.3 412.5 L1054.8 412.5 L1054.3 412.5 L1053.8 412.5 L1053.3 412.5 L1052.8 417.0 L1052.3 417.5 L1051.8 415.4 L1051.3 413.1 L1050.8 410.7 L1050.3 408.1 L1049.8 404.7 L1049.3 404.7 L1048.8 404.7 L1048.3 404.7 L1047.8 404.7 L1047.3 404.7 L1046.8 404.7 L1046.3 404.7 L1045.8 404.7 L1045.3 404.7 L1044.8 404.7 L1044.3 405.0 L1043.8 407.4 L1043.3 409.6 L1042.8 409.3 L1042.3 406.7 L1041.8 406.7 L1041.3 406.7 L1040.8 406.7 L1040.3 406.7 L1039.8 406.7 L1039.3 406.7 L1038.8 406.7 L1038.3 406.7 L1037.8 406.7 L1037.3 406.7 L1036.8 406.7 L1036.3 406.7 L1035.8 406.7 L1035.3 410.6 L1034.8 412.5 L1034.3 412.5 L1033.8 412.5 L1033.3 412.5 L1032.8 412.5 L1032.3 413.1 L1031.8 413.5 L1031.3 410.6 L1030.8 410.6 L1030.3 410.6 L1029.8 410.6 L1029.3 410.6 L1028.8 410.6 L1028.3 410.6 L1027.8 410.6 L1027.3 408.6 L1026.8 408.6 L1026.3 408.6 L1025.8 408.6 L1025.3 408.6 L1024.8 407.6 L1024.3 397.8 L1023.8 388.6 L1023.3 385.0 L1022.8 381.4 L1022.3 377.8 L1021.8 374.1 L1021.3 369.9 L1020.8 369.9 L1020.3 369.9 L1019.8 369.9 L1019.3 369.9 L1018.8 369.9 L1018.3 369.9 L1017.8 369.9 L1017.3 369.9 L1016.8 369.9 L1016.3 369.9 L1015.8 380.3 L1015.3 387.4 L1014.8 388.1 L1014.3 388.8 L1013.8 389.5 L1013.3 390.1 L1012.8 390.8 L1012.3 391.0 L1011.8 391.0 L1011.3 391.0 L1010.8 391.0 L1010.3 391.0 L1009.8 391.0 L1009.3 391.0 L1008.8 391.0 L1008.3 392.9 L1007.8 396.5 L1007.3 396.9 L1006.8 394.7 L1006.3 392.2 L1005.8 389.8 L1005.3 387.3 L1004.8 387.1 L1004.3 387.1 L1003.8 387.1 L1003.3 387.1 L1002.8 387.1 L1002.3 387.1 L1001.8 387.1 L1001.3 387.1 L1000.8 387.1 L1000.3 387.1 L999.8 387.1 L999.3 387.1 L998.8 387.1 L998.3 387.1 L997.8 387.1 L997.3 387.1 L996.8 387.1 L996.3 384.5 L995.8 375.7 L995.3 373.3 L994.8 373.3 L994.3 373.3 L993.8 373.3 L993.3 373.3 L992.8 373.3 L992.3 372.9 L991.8 371.6 L991.3 370.2 L990.8 370.2 L990.3 370.2 L989.8 370.2 L989.3 370.2 L988.8 370.2 L988.3 370.2 L987.8 370.2 L987.3 370.2 L986.8 370.2 L986.3 370.2 L985.8 372.2 L985.3 376.1 L984.8 377.3 L984.3 377.3 L983.8 377.3 L983.3 377.3 L982.8 377.3 L982.3 377.3 L981.8 377.3 L981.3 377.3 L980.8 377.3 L980.3 377.3 L979.8 377.3 L979.3 386.2 L978.8 395.0 L978.3 403.8 L977.8 409.3 L977.3 414.5 L976.8 419.7 L976.3 424.3 L975.8 424.3 L975.3 424.3 L974.8 424.3 L974.3 424.3 L973.8 424.3 L973.3 424.3 L972.8 424.3 L972.3 428.2 L971.8 428.2 L971.3 428.2 L970.8 428.2 L970.3 428.2 L969.8 428.2 L969.3 436.9 L968.8 452.5 L968.3 463.5 L967.8 459.2 L967.3 457.6 L966.8 457.6 L966.3 457.6 L965.8 457.6 L965.3 457.6 L964.8 454.7 L964.3 448.8 L963.8 442.9 L963.3 437.0 L962.8 432.0 L962.3 427.9 L961.8 424.3 L961.3 424.3 L960.8 424.3 L960.3 424.3 L959.8 424.3 L959.3 424.3 L958.8 424.3 L958.3 424.3 L957.8 424.3 L957.3 424.3 L956.8 424.3 L956.3 424.3 L955.8 424.3 L955.3 424.3 L954.8 424.3 L954.3 424.3 L953.8 424.3 L953.3 424.3 L952.8 426.3 L952.3 426.3 L951.8 426.3 L951.3 426.3 L950.8 426.3 L950.3 426.3 L949.8 429.7 L949.3 444.4 L948.8 445.9 L948.3 445.9 L947.8 445.9 L947.3 445.9 L946.8 445.9 L946.3 445.9 L945.8 445.9 L945.3 445.9 L944.8 448.0 L944.3 454.8 L943.8 461.7 L943.3 468.5 L942.8 473.3 L942.3 473.3 L941.8 473.3 L941.3 473.3 L940.8 473.3 L940.3 474.8 L939.8 491.5 L939.3 508.2 L938.8 516.5 L938.3 511.6 L937.8 501.8 L937.3 490.4 L936.8 477.5 L936.3 477.5 L935.8 477.5 L935.3 477.5 L934.8 477.5 L934.3 477.5 L933.8 477.5 L933.3 477.5 L932.8 477.5 L932.3 477.5 L931.8 477.5 L931.3 486.6 L930.8 499.8 L930.3 499.1 L929.8 496.9 L929.3 496.9 L928.8 496.9 L928.3 496.9 L927.8 496.9 L927.3 496.9 L926.8 496.9 L926.3 496.9 L925.8 496.9 L925.3 496.9 L924.8 496.9 L924.3 496.9 L923.8 496.9 L923.3 496.9 L922.8 496.9 L922.3 496.9 L921.8 496.9 L921.3 496.9 L920.8 515.3 L920.3 532.9 L919.8 550.6 L919.3 568.2 L918.8 584.1 L918.3 584.1 L917.8 584.1 L917.3 584.1 L916.8 584.1 L916.3 584.1 L915.8 590.0 L915.3 584.7 L914.8 582.2 L914.3 582.2 L913.8 582.2 L913.3 582.2 L912.8 582.2 L912.3 582.2 L911.8 582.2 L911.3 582.2 L910.8 582.2 L910.3 582.2 L909.8 582.2 L909.3 582.2 L908.8 582.2 L908.3 582.2 L907.8 582.2 L907.3 582.2 L906.8 582.2 L906.3 582.2 L905.8 582.2 L905.3 582.3 L904.8 584.1 L904.3 584.1 L903.8 584.1 L903.3 584.1 L902.8 584.1 L902.3 598.1 L901.8 619.0 L901.3 625.3 L900.8 625.3 L900.3 625.3 L899.8 625.3 L899.3 625.3 L898.8 625.3 L898.3 625.3 L897.8 634.4 L897.3 637.1 L896.8 618.1 L896.3 605.2 L895.8 600.5 L895.3 595.8 L894.8 591.1 L894.3 586.4 L893.8 581.8 L893.3 578.2 L892.8 578.2 L892.3 578.2 L891.8 578.2 L891.3 578.2 L890.8 578.2 L890.3 578.2 L889.8 578.2 L889.3 578.2 L888.8 578.2 L888.3 578.2 L887.8 578.2 L887.3 578.2 L886.8 578.2 L886.3 578.2 L885.8 578.2 L885.3 578.2 L884.8 578.2 L884.3 578.2 L883.8 578.2 L883.3 578.2 L882.8 578.2 L882.3 580.0 L881.8 584.7 L881.3 586.1 L880.8 586.1 L880.3 586.1 L879.8 586.1 L879.3 586.1 L878.8 586.1 L878.3 586.1 L877.8 586.1 L877.3 586.1 L876.8 586.1 L876.3 588.3 L875.8 595.2 L875.3 595.9 L874.8 595.9 L874.3 595.9 L873.8 595.9 L873.3 595.9 L872.8 595.9 L872.3 595.9 L871.8 595.9 L871.3 595.9 L870.8 605.7 L870.3 602.6 L869.8 597.8 L869.3 597.8 L868.8 597.8 L868.3 597.8 L867.8 597.8 L867.3 597.8 L866.8 597.8 L866.3 597.8 L865.8 597.8 L865.3 597.8 L864.8 597.8 L864.3 591.5 L863.8 570.5 L863.3 561.4 L862.8 561.4 L862.3 561.4 L861.8 561.4 L861.3 561.4 L860.8 561.4 L860.3 561.4 L859.8 561.4 L859.3 561.4 L858.8 561.4 L858.3 561.4 L857.8 567.8 L857.3 568.4 L856.8 568.4 L856.3 568.4 L855.8 568.4 L855.3 568.4 L854.8 568.4 L854.3 571.5 L853.8 574.3 L853.3 574.3 L852.8 574.3 L852.3 574.3 L851.8 574.3 L851.3 574.3 L850.8 591.3 L850.3 596.9 L849.8 593.9 L849.3 593.9 L848.8 593.9 L848.3 593.9 L847.8 593.9 L847.3 593.9 L846.8 593.7 L846.3 591.6 L845.8 591.6 L845.3 591.6 L844.8 591.6 L844.3 591.6 L843.8 591.6 L843.3 591.6 L842.8 591.6 L842.3 591.6 L841.8 591.6 L841.3 591.6 L840.8 592.0 L840.3 588.5 L839.8 581.7 L839.3 576.7 L838.8 574.3 L838.3 574.3 L837.8 574.3 L837.3 574.3 L836.8 574.3 L836.3 574.3 L835.8 574.3 L835.3 574.3 L834.8 574.3 L834.3 574.3 L833.8 574.3 L833.3 574.3 L832.8 574.3 L832.3 574.3 L831.8 574.3 L831.3 574.3 L830.8 574.3 L830.3 574.3 L829.8 574.3 L829.3 574.6 L828.8 575.9 L828.3 576.3 L827.8 576.3 L827.3 576.3 L826.8 576.3 L826.3 576.3 L825.8 576.3 L825.3 576.3 L824.8 576.3 L824.3 578.4 L823.8 581.9 L823.3 582.2 L822.8 580.2 L822.3 580.2 L821.8 580.2 L821.3 580.2 L820.8 580.2 L820.3 580.2 L819.8 580.2 L819.3 580.2 L818.8 580.2 L818.3 579.7 L817.8 574.5 L817.3 574.3 L816.8 574.3 L816.3 574.3 L815.8 574.3 L815.3 574.3 L814.8 574.3 L814.3 573.6 L813.8 571.1 L813.3 568.7 L812.8 566.5 L812.3 566.5 L811.8 566.5 L811.3 566.5 L810.8 566.5 L810.3 566.5 L809.8 566.5 L809.3 566.5 L808.8 566.5 L808.3 566.5 L807.8 566.5 L807.3 566.5 L806.8 566.5 L806.3 566.5 L805.8 566.5 L805.3 566.5 L804.8 566.6 L804.3 571.1 L803.8 574.6 L803.3 577.6 L802.8 580.7 L802.3 583.8 L801.8 584.1 L801.3 584.1 L800.8 584.1 L800.3 584.1 L799.8 584.1 L799.3 584.1 L798.8 584.1 L798.3 584.1 L797.8 584.9 L797.3 590.0 L796.8 590.0 L796.3 590.0 L795.8 590.0 L795.3 590.0 L794.8 590.0 L794.3 590.0 L793.8 593.0 L793.3 601.8 L792.8 601.6 L792.3 599.6 L791.8 597.7 L791.3 594.9 L790.8 593.9 L790.3 593.9 L789.8 593.9 L789.3 593.9 L788.8 593.9 L788.3 593.9 L787.8 593.9 L787.3 593.9 L786.8 593.9 L786.3 593.9 L785.8 593.9 L785.3 593.9 L784.8 593.9 L784.3 593.9 L783.8 593.9 L783.3 593.9 L782.8 593.9 L782.3 593.9 L781.8 603.3 L781.3 602.9 L780.8 599.3 L780.3 599.3 L779.8 599.3 L779.3 599.3 L778.8 599.3 L778.3 599.3 L777.8 599.3 L777.3 599.3 L776.8 599.3 L776.3 599.3 L775.8 599.3 L775.3 599.5 L774.8 600.5 L774.3 601.4 L773.8 601.4 L773.3 601.4 L772.8 601.4 L772.3 601.4 L771.8 601.4 L771.3 601.4 L770.8 601.4 L770.3 601.7 L769.8 604.4 L769.3 606.3 L768.8 606.3 L768.3 606.3 L767.8 606.3 L767.3 606.3 L766.8 606.3 L766.3 606.3 L765.8 604.9 L765.3 602.2 L764.8 599.5 L764.3 597.5 L763.8 597.5 L763.3 597.5 L762.8 597.5 L762.3 597.5 L761.8 597.5 L761.3 597.5 L760.8 597.5 L760.3 597.5 L759.8 597.5 L759.3 597.5 L758.8 597.5 L758.3 597.5 L757.8 597.5 L757.3 597.5 L756.8 602.6 L756.3 603.3 L755.8 603.3 L755.3 603.3 L754.8 603.3 L754.3 603.3 L753.8 604.9 L753.3 613.5 L752.8 622.0 L752.3 629.4 L751.8 636.7 L751.3 643.9 L750.8 650.4 L750.3 650.4 L749.8 650.4 L749.3 650.4 L748.8 650.4 L748.3 650.4 L747.8 652.4 L747.3 651.2 L746.8 648.4 L746.3 648.4 L745.8 648.4 L745.3 648.4 L744.8 648.4 L744.3 648.4 L743.8 648.4 L743.3 648.4 L742.8 648.4 L742.3 648.4 L741.8 648.4 L741.3 648.4 L740.8 648.4 L740.3 648.4 L739.8 648.4 L739.3 648.4 L738.8 652.4 L738.3 652.4 L737.8 652.4 L737.3 652.4 L736.8 652.4 L736.3 652.4 L735.8 655.4 L735.3 673.5 L734.8 691.7 L734.3 693.5 L733.8 693.5 L733.3 693.5 L732.8 693.5 L732.3 693.5 L731.8 695.2 L731.3 703.3 L730.8 703.3 L730.3 703.3 L729.8 703.3 L729.3 703.3 L728.8 703.3 L728.3 703.3 L727.8 703.3 L727.3 703.3 L726.8 703.3 L726.3 703.3 L725.8 729.8 L725.3 734.7 L724.8 733.4 L724.3 733.4 L723.8 733.4 L723.3 733.4 L722.8 733.4 L722.3 733.4 L721.8 733.4 L721.3 733.4 L720.8 733.4 L720.3 733.4 L719.8 733.4 L719.3 740.6 L718.8 736.7 L718.3 736.7 L717.8 736.7 L717.3 736.7 L716.8 736.7 L716.3 736.7 L715.8 736.7 L715.3 736.7 L714.8 722.5 L714.3 695.5 L713.8 695.5 L713.3 695.5 L712.8 695.5 L712.3 695.5 L711.8 695.5 L711.3 695.5 L710.8 695.5 L710.3 695.5 L709.8 695.5 L709.3 695.5 L708.8 695.5 L708.3 695.5 L707.8 695.5 L707.3 695.5 L706.8 695.5 L706.3 695.5 L705.8 695.5 L705.3 695.5 L704.8 698.3 L704.3 699.4 L703.8 584.9 L703.3 584.9 L702.8 584.9 L702.3 584.9 L701.8 584.9 L701.3 584.9 L700.8 584.9 L700.3 584.9 L699.8 584.9 L699.3 584.9 L698.8 584.9 L698.3 587.6 L697.8 584.0 L697.3 578.8 L696.8 573.7 L696.3 568.5 L695.8 562.2 L695.3 562.2 L694.8 562.2 L694.3 562.2 L693.8 562.2 L693.3 562.2 L692.8 562.2 L692.3 562.2 L691.8 553.1 L691.3 552.4 L690.8 552.4 L690.3 552.4 L689.8 552.4 L689.3 552.4 L688.8 552.4 L688.3 552.4 L687.8 552.4 L687.3 552.4 L686.8 552.4 L686.3 552.4 L685.8 551.6 L685.3 543.1 L684.8 543.1 L684.3 543.1 L683.8 543.1 L683.3 543.1 L682.8 543.1 L682.3 543.1 L681.8 543.1 L681.3 543.1 L680.8 543.1 L680.3 543.1 L679.8 552.4 L679.3 552.4 L678.8 552.4 L678.3 552.4 L677.8 554.9 L677.3 575.6 L676.8 581.8 L676.3 581.8 L675.8 581.8 L675.3 581.8 L674.8 581.8 L674.3 581.8 L673.8 581.8 L673.3 581.8 L672.8 581.8 L672.3 581.8 L671.8 581.8 L671.3 590.3 L670.8 591.6 L670.3 591.6 L669.8 591.6 L669.3 591.6 L668.8 591.6 L668.3 598.0 L667.8 606.5 L667.3 614.1 L666.8 614.1 L666.3 614.1 L665.8 614.1 L665.3 614.1 L664.8 614.1 L664.3 614.1 L663.8 614.1 L663.3 614.1 L662.8 619.3 L662.3 620.0 L661.8 614.1 L661.3 611.2 L660.8 611.2 L660.3 611.2 L659.8 611.2 L659.3 611.2 L658.8 611.2 L658.3 611.2 L657.8 611.2 L657.3 611.2 L656.8 611.2 L656.3 611.2 L655.8 611.2 L655.3 611.2 L654.8 611.7 L654.3 615.1 L653.8 610.7 L653.3 601.9 L652.8 592.6 L652.3 582.8 L651.8 580.8 L651.3 580.8 L650.8 580.8 L650.3 580.8 L649.8 580.8 L649.3 580.8 L648.8 580.8 L648.3 580.8 L647.8 580.8 L647.3 580.8 L646.8 580.8 L646.3 581.8 L645.8 582.7 L645.3 583.6 L644.8 584.5 L644.3 585.5 L643.8 586.4 L643.3 587.3 L642.8 587.6 L642.3 587.6 L641.8 636.7 L641.3 636.6 L640.8 635.6 L640.3 634.6 L639.8 633.6 L639.3 632.6 L638.8 631.1 L638.3 629.7 L637.8 628.2 L637.3 625.4 L636.8 610.4 L636.3 595.5 L635.8 587.6 L635.3 587.6 L634.8 587.6 L634.3 584.9 L633.8 575.8 L633.3 572.0 L632.8 572.0 L632.3 572.0 L631.8 572.0 L631.3 572.0 L630.8 572.0 L630.3 572.0 L629.8 572.0 L629.3 567.2 L628.8 562.2 L628.3 562.2 L627.8 562.2 L627.3 562.2 L626.8 562.2 L626.3 560.2 L625.8 560.2 L625.3 560.2 L624.8 560.2 L624.3 560.2 L623.8 560.2 L623.3 560.2 L622.8 560.2 L622.3 546.2 L621.8 534.9 L621.3 534.9 L620.8 534.9 L620.3 534.9 L619.8 534.9 L619.3 534.9 L618.8 534.9 L618.3 534.9 L617.8 534.9 L617.3 534.9 L616.8 534.9 L616.3 555.3 L615.8 575.8 L615.3 577.8 L614.8 573.8 L614.3 569.3 L613.8 564.8 L613.3 560.3 L612.8 555.4 L612.3 546.1 L611.8 536.8 L611.3 536.7 L610.8 536.7 L610.3 536.7 L609.8 536.7 L609.3 536.7 L608.8 535.2 L608.3 530.0 L607.8 524.8 L607.3 519.7 L606.8 516.1 L606.3 514.1 L605.8 512.2 L605.3 511.2 L604.8 511.2 L604.3 511.2 L603.8 511.2 L603.3 511.2 L602.8 511.2 L602.3 511.2 L601.8 511.2 L601.3 511.2 L600.8 511.2 L600.3 511.2 L599.8 511.2 L599.3 511.2 L598.8 511.2 L598.3 511.2 L597.8 512.9 L597.3 514.9 L596.8 516.9 L596.3 517.1 L595.8 517.1 L595.3 517.1 L594.8 517.1 L594.3 517.1 L593.8 517.1 L593.3 517.1 L592.8 517.1 L592.3 517.1 L591.8 517.1 L591.3 517.5 L590.8 519.0 L590.3 519.0 L589.8 519.0 L589.3 519.0 L588.8 519.0 L588.3 519.0 L587.8 519.0 L587.3 520.0 L586.8 522.9 L586.3 522.6 L585.8 522.6 L585.3 522.6 L584.8 522.6 L584.3 522.6 L583.8 522.6 L583.3 522.6 L582.8 522.6 L582.3 522.6 L581.8 522.6 L581.3 522.6 L580.8 523.3 L580.3 525.5 L579.8 527.6 L579.3 529.7 L578.8 534.5 L578.3 542.0 L577.8 549.5 L577.3 557.0 L576.8 559.2 L576.3 556.1 L575.8 551.7 L575.3 547.3 L574.8 545.5 L574.3 545.5 L573.8 545.5 L573.3 545.5 L572.8 545.5 L572.3 544.8 L571.8 543.8 L571.3 542.8 L570.8 541.7 L570.3 540.7 L569.8 539.7 L569.3 538.0 L568.8 538.0 L568.3 538.0 L567.8 538.0 L567.3 538.0 L566.8 538.0 L566.3 538.0 L565.8 538.0 L565.3 538.0 L564.8 538.0 L564.3 538.0 L563.8 542.3 L563.3 546.7 L562.8 551.0 L562.3 551.4 L561.8 545.3 L561.3 538.5 L560.8 537.6 L560.3 537.6 L559.8 537.6 L559.3 537.6 L558.8 537.6 L558.3 537.6 L557.8 537.6 L557.3 537.6 L556.8 536.6 L556.3 534.7 L555.8 532.7 L555.3 530.8 L554.8 528.2 L554.3 525.9 L553.8 525.9 L553.3 525.9 L552.8 525.9 L552.3 525.9 L551.8 525.9 L551.3 525.9 L550.8 525.9 L550.3 525.9 L549.8 525.9 L549.3 525.9 L548.8 525.9 L548.3 525.9 L547.8 530.1 L547.3 530.8 L546.8 529.2 L546.3 528.8 L545.8 528.8 L545.3 528.8 L544.8 528.8 L544.3 528.8 L543.8 528.8 L543.3 528.8 L542.8 528.8 L542.3 528.8 L541.8 528.8 L541.3 528.8 L540.8 528.8 L540.3 528.8 L539.8 528.8 L539.3 528.9 L538.8 531.6 L538.3 534.3 L537.8 536.7 L537.3 536.4 L536.8 536.4 L536.3 536.4 L535.8 536.4 L535.3 536.4 L534.8 536.4 L534.3 536.4 L533.8 536.4 L533.3 536.4 L532.8 536.4 L532.3 536.4 L531.8 536.7 L531.3 535.1 L530.8 532.7 L530.3 532.7 L529.8 532.7 L529.3 532.7 L528.8 532.7 L528.3 532.7 L527.8 532.7 L527.3 532.7 L526.8 532.7 L526.3 530.1 L525.8 529.8 L525.3 529.8 L524.8 529.8 L524.3 529.8 L523.8 529.8 L523.3 529.8 L522.8 529.8 L522.3 527.1 L521.8 526.8 L521.3 526.8 L520.8 526.8 L520.3 526.8 L519.8 526.8 L519.3 526.8 L518.8 526.8 L518.3 526.8 L517.8 526.8 L517.3 526.8 L516.8 526.8 L516.3 529.8 L515.8 529.8 L515.3 529.8 L514.8 529.8 L514.3 529.8 L513.8 529.8 L513.3 529.8 L512.8 529.8 L512.3 534.3 L511.8 542.1 L511.3 547.5 L510.8 546.0 L510.3 541.1 L509.8 536.2 L509.3 535.7 L508.8 535.7 L508.3 535.7 L507.8 535.7 L507.3 535.7 L506.8 535.7 L506.3 535.7 L505.8 534.5 L505.3 532.0 L504.8 529.8 L504.3 529.8 L503.8 529.8 L503.3 529.8 L502.8 529.8 L502.3 529.8 L501.8 529.8 L501.3 529.8 L500.8 529.8 L500.3 529.8 L499.8 529.8 L499.3 529.8 L498.8 529.8 L498.3 529.8 L497.8 529.8 L497.3 529.8 L496.8 529.8 L496.3 529.8 L495.8 533.9 L495.3 539.8 L494.8 541.6 L494.3 541.6 L493.8 541.6 L493.3 541.6 L492.8 541.6 L492.3 541.6 L491.8 541.6 L491.3 541.6 L490.8 555.3 L490.3 552.9 L489.8 529.8 L489.3 529.8 L488.8 529.8 L488.3 529.8 L487.8 529.8 L487.3 529.8 L486.8 529.8 L486.3 529.8 L485.8 529.8 L485.3 529.8 L484.8 529.8 L484.3 529.8 L483.8 529.8 L483.3 529.8 L482.8 533.1 L482.3 537.6 L481.8 529.0 L481.3 516.8 L480.8 504.5 L480.3 493.1 L479.8 486.7 L479.3 486.7 L478.8 486.7 L478.3 486.7 L477.8 486.7 L477.3 486.7 L476.8 486.7 L476.3 468.5 L475.8 449.4 L475.3 449.4 L474.8 449.4 L474.3 449.4 L473.8 449.4 L473.3 449.4 L472.8 449.4 L472.3 449.4 L471.8 449.4 L471.3 449.4 L470.8 449.4 L470.3 452.1 L469.8 464.1 L469.3 493.6 L468.8 496.5 L468.3 496.5 L467.8 496.5 L467.3 496.5 L466.8 496.5 L466.3 496.5 L465.8 496.5 L465.3 496.5 L464.8 496.5 L464.3 496.5 L463.8 496.5 L463.3 514.1 L462.8 514.1 L462.3 514.1 L461.8 514.1 L461.3 514.1 L460.8 514.1 L460.3 514.1 L459.8 514.1 L459.3 514.1 L458.8 514.1 L458.3 514.1 L457.8 539.6 L457.3 536.7 L456.8 514.1 L456.3 514.1 L455.8 514.1 L455.3 514.1 L454.8 514.1 L454.3 514.1 L453.8 514.1 L453.3 514.1 L452.8 514.1 L452.3 514.1 L451.8 514.1 L451.3 514.1 L450.8 514.1 L450.3 514.1 L449.8 524.0 L449.3 534.7 L448.8 516.6 L448.3 508.2 L447.8 508.2 L447.3 508.2 L446.8 508.2 L446.3 508.2 L445.8 508.2 L445.3 508.2 L444.8 508.2 L444.3 508.2 L443.8 506.3 L443.3 506.3 L442.8 506.3 L442.3 506.3 L441.8 506.3 L441.3 506.3 L440.8 506.3 L440.3 506.3 L439.8 506.3 L439.3 506.1 L438.8 504.1 L438.3 502.2 L437.8 500.2 L437.3 498.3 L436.8 497.7 L436.3 497.0 L435.8 496.3 L435.3 495.6 L434.8 495.0 L434.3 485.7 L433.8 456.3 L433.3 447.6 L432.8 442.7 L432.3 442.7 L431.8 442.7 L431.3 442.7 L430.8 442.7 L430.3 442.7 L429.8 442.7 L429.3 442.7 L428.8 442.7 L428.3 442.7 L427.8 442.7 L427.3 442.7 L426.8 442.7 L426.3 442.7 L425.8 444.3 L425.3 447.6 L424.8 430.0 L424.3 426.1 L423.8 426.1 L423.3 426.1 L422.8 426.1 L422.3 426.1 L421.8 426.1 L421.3 426.1 L420.8 426.1 L420.3 426.1 L419.8 426.1 L419.3 426.1 L418.8 426.1 L418.3 426.1 L417.8 426.1 L417.3 426.1 L416.8 432.9 L416.3 432.9 L415.8 432.9 L415.3 432.9 L414.8 432.9 L414.3 432.9 L413.8 432.9 L413.3 432.9 L412.8 432.9 L412.3 432.9 L411.8 432.9 L411.3 435.9 L410.8 435.9 L410.3 435.9 L409.8 435.9 L409.3 435.9 L408.8 437.2 L408.3 448.7 L407.8 454.5 L407.3 454.1 L406.8 453.4 L406.3 452.6 L405.8 451.8 L405.3 431.8 L404.8 416.3 L404.3 416.3 L403.8 416.3 L403.3 416.3 L402.8 416.3 L402.3 416.3 L401.8 416.3 L401.3 405.7 L400.8 398.6 L400.3 398.6 L399.8 398.6 L399.3 398.6 L398.8 398.6 L398.3 398.6 L397.8 398.6 L397.3 398.6 L396.8 397.5 L396.3 396.7 L395.8 396.7 L395.3 396.7 L394.8 396.7 L394.3 396.7 L393.8 396.7 L393.3 396.7 L392.8 396.7 L392.3 396.7 L391.8 396.7 L391.3 396.7 L390.8 396.7 L390.3 398.2 L389.8 400.6 L389.3 400.6 L388.8 400.6 L388.3 400.6 L387.8 400.6 L387.3 400.6 L386.8 400.6 L386.3 400.6 L385.8 400.6 L385.3 400.6 L384.8 405.5 L384.3 415.3 L383.8 418.2 L383.3 406.8 L382.8 398.6 L382.3 398.6 L381.8 398.6 L381.3 398.6 L380.8 398.6 L380.3 398.6 L379.8 398.6 L379.3 398.6 L378.8 398.6 L378.3 398.6 L377.8 382.5 L377.3 382.4 L376.8 382.4 L376.3 382.4 L375.8 382.4 L375.3 382.4 L374.8 382.4 L374.3 382.4 L373.8 382.4 L373.3 382.4 L372.8 382.4 L372.3 382.4 L371.8 384.9 L371.3 384.3 L370.8 381.0 L370.3 381.0 L369.8 381.0 L369.3 381.0 L368.8 381.0 L368.3 381.0 L367.8 381.0 L367.3 380.4 L366.8 374.5 L366.3 373.2 L365.8 373.2 L365.3 373.2 L364.8 373.2 L364.3 373.2 L363.8 373.2 L363.3 373.2 L362.8 373.2 L362.3 373.2 L361.8 373.2 L361.3 373.2 L360.8 377.3 L360.3 381.7 L359.8 386.1 L359.3 390.5 L358.8 392.7 L358.3 392.7 L357.8 392.7 L357.3 392.7 L356.8 392.7 L356.3 392.7 L355.8 392.7 L355.3 392.7 L354.8 392.7 L354.3 395.8 L353.8 396.7 L353.3 394.5 L352.8 391.4 L352.3 388.8 L351.8 388.8 L351.3 388.8 L350.8 388.8 L350.3 388.8 L349.8 388.8 L349.3 388.8 L348.8 388.8 L348.3 388.8 L347.8 388.8 L347.3 388.8 L346.8 388.8 L346.3 388.8 L345.8 388.8 L345.3 388.8 L344.8 392.3 L344.3 399.3 L343.8 406.0 L343.3 412.7 L342.8 419.4 L342.3 424.1 L341.8 424.0 L341.3 423.5 L340.8 423.0 L340.3 422.5 L339.8 422.5 L339.3 422.5 L338.8 422.5 L338.3 422.5 L337.8 422.5 L337.3 422.5 L336.8 422.5 L336.3 422.5 L335.8 422.5 L335.3 422.5 L334.8 425.7 L334.3 429.1 L333.8 429.4 L333.3 429.7 L332.8 429.9 L332.3 430.0 L331.8 430.0 L331.3 430.0 L330.8 430.0 L330.3 430.0 L329.8 430.0 L329.3 430.0 L328.8 430.0 L328.3 430.8 L327.8 436.3 L327.3 436.9 L326.8 435.9 L326.3 435.9 L325.8 435.9 L325.3 435.9 L324.8 435.9 L324.3 435.9 L323.8 435.9 L323.3 435.9 L322.8 435.9 L322.3 435.9 L321.8 435.9 L321.3 429.3 L320.8 394.7 L320.3 394.7 L319.8 394.7 L319.3 394.5 L318.8 392.0 L318.3 392.0 L317.8 392.0 L317.3 392.0 L316.8 392.0 L316.3 392.0 L315.8 392.0 L315.3 392.0 L314.8 392.0 L314.3 392.0 L313.8 392.0 L313.3 398.2 L312.8 415.4 L312.3 415.4 L311.8 415.4 L311.3 415.4 L310.8 415.4 L310.3 415.4 L309.8 415.4 L309.3 415.4 L308.8 415.4 L308.3 415.4 L307.8 415.4 L307.3 415.4 L306.8 415.4 L306.3 415.4 L305.8 415.4 L305.3 415.4 L304.8 415.4 L304.3 415.4 L303.8 415.4 L303.3 415.4 L302.8 415.6 L302.3 417.8 L301.8 420.0 L301.3 422.2 L300.8 423.7 L300.3 422.5 L299.8 418.4 L299.3 416.1 L298.8 415.8 L298.3 415.5 L297.8 415.1 L297.3 414.8 L296.8 414.4 L296.3 413.5 L295.8 412.6 L295.3 412.6 L294.8 412.6 L294.3 412.6 L293.8 412.6 L293.3 412.6 L292.8 412.6 L292.3 412.6 L291.8 412.6 L291.3 412.6 L290.8 412.6 L290.3 412.6 L289.8 412.6 L289.3 412.6 L288.8 412.6 L288.3 412.6 L287.8 414.4 L287.3 414.4 L286.8 414.4 L286.3 414.4 L285.8 414.4 L285.3 414.4 L284.8 414.4 L284.3 414.4 L283.8 414.4 L283.3 414.4 L282.8 415.0 L282.3 417.0 L281.8 419.0 L281.3 421.0 L280.8 423.0 L280.3 425.0 L279.8 426.9 L279.3 428.9 L278.8 430.9 L278.3 431.1 L277.8 431.1 L277.3 431.1 L276.8 431.1 L276.3 431.1 L275.8 431.1 L275.3 435.3 L274.8 440.4 L274.3 438.3 L273.8 438.3 L273.3 438.3 L272.8 438.3 L272.3 438.3 L271.8 438.3 L271.3 438.3 L270.8 438.3 L270.3 438.3 L269.8 438.3 L269.3 438.3 L268.8 444.6 L268.3 447.8 L267.8 447.8 L267.3 447.8 L266.8 447.8 L266.3 447.8 L265.8 447.8 L265.3 446.9 L264.8 437.6 L264.3 428.3 L263.8 419.1 L263.3 410.8 L262.8 404.9 L262.3 399.0 L261.8 399.0 L261.3 399.0 L260.8 399.0 L260.3 399.0 L259.8 399.0 L259.3 399.0 L258.8 399.0 L258.3 399.0 L257.8 399.0 L257.3 399.0 L256.8 411.1 L256.3 423.7 L255.8 423.7 L255.3 423.7 L254.8 423.7 L254.3 423.7 L253.8 423.7 L253.3 423.7 L252.8 423.7 L252.3 423.7 L251.8 423.7 L251.3 423.7 L250.8 428.9 L250.3 434.0 L249.8 439.0 L249.3 444.0 L248.8 449.1 L248.3 456.1 L247.8 463.3 L247.3 470.5 L246.8 475.6 L246.3 469.1 L245.8 464.4 L245.3 464.4 L244.8 464.4 L244.3 464.4 L243.8 464.4 L243.3 464.4 L242.8 464.4 L242.3 464.4 L241.8 464.4 L241.3 464.4 L240.8 464.4 L240.3 464.4 L239.8 464.4 L239.3 464.4 L238.8 464.4 L238.3 468.8 L237.8 473.8 L237.3 477.7 L236.8 481.6 L236.3 485.5 L235.8 486.7 L235.3 481.6 L234.8 474.4 L234.3 467.2 L233.8 459.4 L233.3 446.5 L232.8 434.0 L232.3 426.3 L231.8 418.6 L231.3 410.9 L230.8 406.7 L230.3 406.0 L229.8 405.3 L229.3 404.7 L228.8 404.0 L228.3 403.4 L227.8 392.0 L227.3 386.7 L226.8 386.7 L226.3 386.7 L225.8 386.7 L225.3 386.7 L224.8 386.7 L224.3 386.7 L223.8 386.7 L223.3 386.7 L222.8 386.7 L222.3 383.0 L221.8 383.0 L221.3 383.0 L220.8 383.0 L220.3 383.0 L219.8 383.0 L219.3 383.0 L218.8 383.0 L218.3 383.0 L217.8 383.0 L217.3 383.0 L216.8 383.0 L216.3 383.0 L215.8 383.0 L215.3 383.0 L214.8 383.0 L214.3 392.2 L213.8 391.5 L213.3 390.4 L212.8 390.4 L212.3 390.4 L211.8 390.4 L211.3 390.4 L210.8 390.4 L210.3 390.4 L209.8 390.4 L209.3 385.3 L208.8 383.0 L208.3 383.0 L207.8 383.0 L207.3 383.0 L206.8 383.0 L206.3 383.0 L205.8 383.0 L205.3 383.0 L204.8 378.0 L204.3 373.1 L203.8 373.1 L203.3 373.1 L202.8 373.1 L202.3 373.1 L201.8 373.1 L201.3 373.1 L200.8 373.1 L200.3 373.1 L199.8 373.1 L199.3 373.1 L198.8 376.1 L198.3 376.7 L197.8 377.4 L197.3 378.0 L196.8 378.7 L196.3 379.9 L195.8 385.5 L195.3 391.1 L194.8 396.8 L194.3 402.3 L193.8 407.7 L193.3 413.0 L192.8 418.4 L192.3 420.0 L191.8 418.6 L191.3 416.6 L190.8 416.3 L190.3 416.3 L189.8 416.3 L189.3 416.3 L188.8 416.3 L188.3 416.3 L187.8 416.3 L187.3 416.3 L186.8 416.3 L186.3 416.3 L185.8 416.3 L185.3 416.3 L184.8 416.3 L184.3 416.3 L183.8 416.3 L183.3 416.3 L182.8 416.3 L182.3 417.0 L181.8 419.0 L181.3 423.3 L180.8 429.9 L180.3 436.5 L179.8 443.1 L179.3 449.7 L178.8 456.3 L178.3 457.0 L177.8 457.0 L177.3 457.0 L176.8 457.0 L176.3 457.0 L175.8 484.7 L175.3 495.9 L174.8 507.1 L174.3 514.9 L173.8 514.9 L173.3 514.9 L172.8 514.9 L172.3 514.9 L171.8 514.9 L171.3 514.9 L170.8 514.9 L170.3 514.9 L169.8 514.9 L169.3 534.1 L168.8 534.1 L168.3 534.1 L167.8 534.1 L167.3 534.1 L166.8 534.1 L166.3 534.1 L165.8 541.7 L165.3 558.6 L164.8 560.3 L164.3 560.3 L163.8 560.3 L163.3 560.3 L162.8 560.3 L162.3 565.8 L161.8 575.0 L161.3 575.9 L160.8 567.1 L160.3 557.3 L159.8 552.2 L159.3 552.2 L158.8 552.2 L158.3 552.2 L157.8 552.2 L157.3 552.2 L156.8 552.2 L156.3 552.2 L155.8 552.2 L155.3 552.2 L154.8 552.2 L154.3 560.5 L153.8 568.1 L153.3 568.1 L152.8 568.1 L152.3 568.1 L151.8 568.1 L151.3 568.1 L150.8 568.1 L150.3 568.1 L149.8 568.1 L149.3 570.7 L148.8 561.4 L148.3 561.4 L147.8 561.4 L147.3 561.4 L146.8 561.4 L146.3 561.4 L145.8 561.4 L145.3 561.4 L144.8 561.4 L144.3 561.4 L143.8 561.4 L143.3 570.7 L142.8 557.6 L142.3 514.1 L141.8 506.0 L141.3 502.0 L140.8 500.1 L140.3 500.1 L139.8 500.1 L139.3 500.1 L138.8 500.1 L138.3 500.1 L137.8 500.1 L137.3 500.1 L136.8 500.1 L136.3 500.1 L135.8 500.1 L135.3 500.7 L134.8 503.6 L134.3 506.2 L133.8 506.2 L133.3 506.2 L132.8 506.2 L132.3 506.2 L131.8 506.2 L131.3 506.4 L130.8 508.6 L130.3 512.3 L129.8 517.6 L129.3 522.9 L128.8 524.5 L128.3 523.9 L127.8 523.1 L127.3 522.3 L126.8 521.4 L126.3 520.6 L125.8 517.3 L125.3 511.4 L124.8 506.1 L124.3 501.0 L123.8 499.3 L123.3 499.3 L122.8 499.3 L122.3 499.3 L121.8 499.3 L121.3 499.3 L120.8 499.3 L120.3 499.3 L119.8 499.3 L119.3 499.3 L118.8 499.3 L118.3 499.3 L117.8 499.3 L117.3 502.7 L116.8 505.4 L116.3 503.2 L115.8 503.2 L115.3 503.2 L114.8 503.2 L114.3 503.2 L113.8 503.2 L113.3 503.2 L112.8 503.2 L112.3 503.2 L111.8 503.2 L111.3 503.2 L110.8 505.4 L110.3 505.0 L109.8 500.8 L109.3 497.5 L108.8 497.5 L108.3 497.5 L107.8 497.5 L107.3 497.5 L106.8 497.5 L106.3 497.5 L105.8 497.5 L105.3 497.5 L104.8 497.5 L104.3 497.5 L103.8 500.7 L103.3 506.9 L102.8 514.2 L102.3 521.5 L101.8 523.7 L101.3 519.6 L100.8 513.8 L100.3 513.8 L99.8 513.8 L99.3 513.8 L98.8 513.8 L98.3 513.8 L97.8 513.8 L97.3 513.8 L96.8 513.8 L96.3 513.8 L95.8 513.8 L95.3 518.4 L94.8 530.9 L94.3 543.4 L93.8 544.6 L93.3 544.6 L92.8 544.6 L92.3 544.6 L91.8 544.6 L91.3 544.6 L90.8 544.6 L90.3 544.6 L89.8 544.6 L89.3 544.6 L88.8 544.6 L88.3 544.6 L87.8 544.6 L87.3 544.6 L86.8 544.6 L86.3 544.6 L85.8 544.6 L85.3 549.8 L84.8 579.0 L84.3 588.1 L83.8 562.5 L83.3 550.0 L82.8 547.8 L82.3 543.8 L81.8 535.6 L81.3 527.4 L80.8 527.1 L80.3 527.1 L79.8 527.1 L79.3 527.1 L78.8 526.0 L78.3 525.4 L77.8 525.4 L77.3 525.4 L76.8 525.4 L76.3 525.4 L75.8 525.4 L75.3 522.5 L74.8 512.6 L74.3 507.3 L73.8 503.9 L73.3 500.6 L72.8 497.1 L72.3 493.0 L71.8 488.9 L71.3 488.8 L70.8 488.8 L70.3 488.8 L69.8 488.8 L69.3 487.9 L68.8 487.7 L68.3 487.7 L67.8 487.7 L67.3 487.7 L66.8 487.7 L66.3 487.7 L65.8 487.7 L65.3 487.7 L64.8 487.7 L64.3 487.7 L63.8 487.7 L63.3 487.9 L62.8 484.9 L62.3 481.6 L61.8 478.3 L61.3 476.3 L60.8 475.7 L60.3 475.1 L59.8 475.1 L59.3 475.1 L58.8 475.1 L58.3 475.1 L57.8 475.1 L57.3 475.1 L56.8 475.1 L56.3 475.1 L55.8 475.1 L55.3 475.1 L54.8 559.4 Z" fill="#FFA029" stroke="#FFA029" stroke-width="4.6" stroke-linejoin="round"/>
<path d="M54.8 559.4 L54.9 467.9 L58.0 465.8 L59.8 473.1 L62.7 476.6 L64.2 487.9 L66.8 475.7 L69.5 474.9 L70.2 488.8 L72.1 483.6 L74.1 497.5 L75.7 509.7 L76.2 525.4 L78.3 514.9 L80.0 527.1 L81.4 518.4 L82.9 546.3 L84.0 551.5 L84.4 588.1 L85.0 551.5 L85.7 527.1 L86.7 511.5 L88.5 521.9 L90.4 544.6 L92.7 530.6 L94.5 544.6 L96.1 509.7 L96.4 490.5 L99.4 490.5 L100.9 509.7 L102.2 523.7 L103.8 506.2 L105.0 494.0 L107.1 497.5 L109.5 490.5 L111.2 505.4 L113.1 492.3 L115.1 486.2 L116.6 492.3 L117.4 505.4 L119.4 492.3 L122.0 499.3 L124.4 492.3 L126.1 509.7 L126.8 520.2 L129.3 524.5 L131.2 509.7 L132.7 504.5 L135.3 506.2 L137.1 495.8 L138.6 500.1 L140.1 492.3 L140.7 492.3 L141.1 461.8 L141.6 497.5 L142.9 509.7 L143.3 570.7 L143.9 537.6 L146.0 514.9 L149.1 544.6 L149.7 570.7 L150.3 537.6 L151.8 520.2 L153.1 553.3 L153.9 568.1 L155.5 544.6 L156.1 513.2 L158.8 512.3 L160.6 544.6 L162.2 575.9 L163.8 544.6 L165.3 560.3 L166.5 509.7 L167.4 467.0 L168.9 509.7 L169.4 534.1 L169.9 492.3 L172.7 471.4 L173.7 501.0 L174.6 514.9 L175.9 483.6 L176.8 438.5 L179.2 457.0 L182.0 420.0 L185.5 405.2 L187.6 416.3 L190.4 408.9 L193.1 420.0 L195.3 399.6 L197.4 379.3 L200.0 375.6 L200.6 360.7 L204.1 356.1 L206.0 383.0 L208.0 358.9 L210.9 390.4 L212.6 359.8 L214.7 392.2 L216.2 360.7 L217.7 335.7 L219.3 383.0 L221.1 344.1 L223.3 386.7 L226.6 371.9 L227.2 337.6 L227.8 375.6 L229.0 403.3 L232.0 407.0 L233.8 434.8 L234.8 460.7 L236.2 486.7 L238.0 471.9 L240.3 449.6 L241.4 440.4 L241.6 384.8 L242.1 440.4 L243.0 464.4 L244.9 438.5 L245.5 410.7 L246.7 475.6 L248.8 449.6 L251.3 427.4 L253.2 395.9 L256.2 397.8 L256.8 423.7 L257.3 388.5 L262.2 391.3 L263.8 412.6 L265.6 447.8 L268.4 447.8 L270.4 423.7 L271.2 397.8 L273.9 394.1 L274.8 440.4 L277.0 395.9 L278.6 431.1 L281.7 420.0 L284.7 408.9 L286.3 392.2 L288.3 414.4 L290.4 399.6 L293.4 412.6 L294.5 407.0 L298.2 414.4 L300.9 416.3 L301.3 423.7 L302.7 415.4 L313.1 415.4 L314.0 381.0 L316.5 376.1 L318.6 384.9 L320.4 394.7 L321.5 382.9 L322.0 435.9 L325.1 416.3 L327.8 436.9 L330.7 404.5 L333.0 430.0 L334.6 429.0 L336.3 402.5 L338.2 408.4 L340.2 422.2 L342.5 424.1 L344.8 398.6 L346.2 379.0 L348.8 382.0 L351.0 388.8 L353.0 384.9 L354.6 396.7 L357.3 378.0 L359.3 392.7 L361.4 375.1 L363.3 360.4 L366.2 358.4 L367.9 381.0 L369.9 361.4 L372.2 384.9 L375.0 371.2 L378.5 366.3 L378.7 398.6 L379.5 358.4 L383.0 369.2 L384.2 418.2 L386.6 371.2 L389.0 394.7 L390.5 400.6 L392.7 377.1 L394.4 396.7 L396.0 364.3 L397.5 398.6 L399.4 377.1 L401.5 392.7 L402.3 416.3 L404.5 372.2 L405.9 451.6 L407.8 454.5 L409.8 408.4 L411.3 435.9 L413.1 396.7 L414.7 424.1 L417.0 432.9 L419.1 388.8 L419.8 349.6 L420.5 388.8 L421.9 426.1 L423.1 370.2 L425.0 408.4 L425.7 447.6 L426.5 382.0 L427.8 442.7 L429.6 400.6 L430.9 432.0 L432.1 416.3 L433.7 447.6 L434.4 435.7 L435.1 494.5 L437.8 498.4 L439.9 506.3 L442.8 478.8 L444.9 508.2 L446.4 469.0 L449.3 498.4 L449.9 534.7 L450.4 484.7 L452.2 462.2 L453.6 514.1 L457.5 498.4 L457.9 539.6 L458.4 478.8 L462.6 469.0 L463.4 514.1 L464.6 463.1 L469.2 459.2 L469.6 496.5 L470.3 455.3 L473.0 429.8 L474.3 449.4 L476.1 434.7 L476.9 486.7 L479.1 456.3 L481.4 498.4 L482.9 537.6 L484.1 498.4 L486.1 529.8 L487.0 514.1 L490.2 522.0 L491.0 555.3 L491.8 529.8 L493.7 489.6 L495.2 541.6 L497.5 518.0 L499.8 507.3 L500.9 529.8 L502.9 510.2 L505.1 525.9 L506.8 535.7 L507.7 514.1 L509.8 527.8 L511.6 547.5 L513.3 518.0 L516.5 529.8 L518.9 517.1 L521.8 515.1 L523.4 529.8 L525.5 518.0 L527.9 532.7 L530.8 523.9 L532.6 536.7 L535.4 522.0 L538.3 536.7 L540.6 525.9 L543.7 528.8 L546.6 523.9 L548.4 530.8 L549.3 518.0 L551.3 525.9 L554.0 517.1 L556.0 529.8 L557.8 537.6 L559.6 511.2 L561.7 533.7 L563.0 551.4 L564.9 537.6 L567.0 535.7 L568.6 521.0 L570.9 539.6 L574.0 545.5 L575.8 541.6 L577.4 559.2 L579.4 530.8 L582.7 518.0 L585.8 519.0 L587.5 522.9 L589.1 507.3 L591.0 519.0 L594.8 506.3 L596.8 517.1 L601.0 501.4 L603.4 511.2 L606.5 509.2 L608.2 517.1 L609.5 536.7 L611.2 521.0 L613.1 556.3 L615.7 577.8 L617.1 528.8 L618.3 489.6 L620.2 519.0 L621.5 500.4 L623.1 560.2 L625.6 528.8 L627.7 562.2 L628.1 533.7 L629.8 572.0 L632.8 551.4 L635.0 587.6 L635.8 570.0 L637.6 626.9 L639.7 632.7 L641.8 636.7 L642.5 541.6 L643.4 587.6 L647.3 579.8 L648.1 543.5 L649.1 572.0 L651.9 560.2 L653.7 597.5 L654.7 615.1 L656.8 587.6 L658.8 611.2 L660.7 589.6 L663.2 620.0 L664.9 597.5 L667.5 614.1 L669.2 581.8 L671.2 591.6 L672.4 566.1 L675.5 568.0 L677.3 581.8 L678.2 544.5 L680.2 552.4 L680.9 505.3 L683.6 488.6 L685.4 528.8 L686.4 552.4 L687.7 509.2 L689.8 548.4 L690.7 523.9 L692.5 562.2 L695.3 526.9 L696.9 568.0 L698.6 587.6 L701.3 541.6 L703.0 579.8 L704.6 560.2 L704.6 699.4 L707.7 634.7 L709.5 695.5 L711.4 644.5 L713.2 628.8 L714.9 679.8 L715.7 736.7 L717.5 679.8 L719.6 740.6 L722.1 699.4 L725.7 701.4 L725.8 734.7 L726.2 666.1 L730.0 668.0 L731.4 703.3 L732.9 622.0 L734.5 693.5 L736.9 606.3 L739.1 652.4 L741.4 619.0 L743.0 615.1 L743.7 648.4 L745.7 608.2 L747.9 652.4 L750.1 628.8 L751.2 650.4 L753.1 622.9 L754.6 595.5 L757.0 603.3 L758.0 589.6 L760.6 585.7 L762.4 597.5 L765.3 595.5 L767.0 606.3 L769.8 606.3 L771.9 595.5 L775.0 601.4 L778.3 595.5 L781.0 591.6 L782.0 603.3 L782.2 574.3 L784.6 576.3 L786.7 593.9 L787.8 574.3 L790.5 568.4 L791.6 595.9 L793.2 601.8 L795.1 570.4 L797.8 590.0 L799.7 568.4 L802.5 584.1 L804.4 572.4 L806.2 554.7 L808.2 553.7 L810.7 566.5 L813.8 564.5 L815.4 574.3 L817.3 560.6 L819.4 580.2 L821.6 568.4 L824.4 582.2 L826.4 568.4 L829.3 576.3 L832.3 568.4 L834.9 574.3 L835.8 556.7 L838.8 568.4 L840.1 578.2 L840.8 592.0 L842.2 564.5 L844.2 541.0 L845.9 588.0 L847.5 593.9 L849.2 568.4 L849.9 535.1 L850.4 596.9 L852.0 537.1 L854.2 574.3 L856.5 537.1 L857.8 568.4 L859.8 539.0 L862.4 538.0 L864.5 568.4 L865.3 597.8 L866.3 564.5 L870.8 562.5 L871.2 605.7 L871.9 568.4 L873.8 546.9 L875.8 595.9 L878.1 568.4 L879.7 552.7 L881.5 586.1 L883.6 568.4 L885.4 553.7 L886.9 578.2 L888.3 541.0 L890.4 578.2 L891.8 560.6 L894.5 582.2 L897.4 607.6 L898.1 637.1 L898.9 599.8 L900.3 568.4 L901.4 625.3 L903.0 562.5 L905.4 584.1 L907.9 560.6 L909.7 582.2 L911.1 552.7 L912.7 582.2 L914.7 554.7 L915.7 590.0 L917.1 509.6 L918.7 584.1 L920.7 513.5 L920.6 485.1 L922.9 496.9 L923.9 415.5 L925.2 496.9 L927.5 436.1 L929.6 477.3 L930.9 499.8 L932.5 443.9 L934.6 467.5 L936.0 447.8 L937.9 496.9 L938.8 516.5 L940.9 449.8 L943.1 473.3 L945.4 445.9 L947.0 418.4 L947.6 387.1 L949.1 445.9 L951.0 398.8 L953.6 426.3 L956.0 387.1 L957.9 424.3 L959.8 385.1 L962.0 418.4 L963.8 434.1 L965.4 457.6 L966.3 408.6 L968.2 463.5 L970.4 400.8 L972.7 428.2 L974.4 392.9 L976.2 424.3 L978.2 404.7 L980.5 369.4 L983.5 365.5 L985.4 377.3 L987.6 361.6 L990.7 365.5 L993.5 373.3 L995.7 362.5 L997.0 387.1 L999.2 369.4 L1001.5 387.1 L1003.3 376.3 L1006.3 387.1 L1008.2 396.9 L1010.1 383.1 L1013.0 391.0 L1015.5 387.1 L1017.0 348.8 L1018.9 369.4 L1020.2 353.7 L1023.0 375.3 L1024.8 389.0 L1025.3 408.6 L1026.9 379.2 L1028.4 410.6 L1030.6 398.8 L1032.8 413.5 L1034.6 396.9 L1035.2 412.5 L1037.6 382.2 L1039.5 406.7 L1041.9 396.9 L1044.1 409.6 L1046.6 396.9 L1048.4 404.7 L1049.4 391.0 L1051.0 408.6 L1052.8 417.5 L1054.9 398.8 L1057.1 412.5 L1059.2 398.8 L1061.0 406.7 L1062.4 405.3 L1065.0 405.3 L1066.7 434.7 L1068.7 419.0 L1071.7 434.7 L1073.6 419.0 L1075.2 396.5 L1076.9 430.8 L1078.8 394.5 L1080.4 417.1 L1081.9 454.3 L1084.2 434.7 L1086.5 448.4 L1087.9 416.1 L1089.6 470.0 L1091.6 424.9 L1093.9 481.8 L1096.5 442.5 L1098.5 473.9 L1099.7 438.6 L1101.4 487.6 L1103.4 456.3 L1105.5 526.9 L1107.6 468.0 L1109.3 475.9 L1112.1 522.9 L1114.2 491.6 L1116.0 507.3 L1117.8 468.0 L1118.3 485.7" fill="none" stroke="#FFA029" stroke-width="4.6" stroke-linejoin="round" stroke-linecap="round"/>
<path d="M54.8 559.4 L54.7 467.9 L56.8 465.8 L57.8 473.1 L60.9 476.6 L62.8 487.9 L65.4 475.7 L68.1 474.9 L69.0 488.8 L70.7 483.6 L72.1 497.5 L74.1 509.7 L75.2 525.4 L76.7 514.9 L78.4 527.1 L80.6 518.4 L82.5 546.3 L83.8 551.5 L84.4 588.1 L85.0 551.5 L85.7 527.1 L86.7 511.5 L88.5 521.9 L90.0 544.6 L91.9 530.6 L93.5 544.6 L94.8 509.7 L95.8 490.5 L99.2 490.5 L100.5 509.7 L101.6 523.7 L102.4 506.2 L103.2 494.0 L105.3 497.5 L108.1 490.5 L110.0 505.4 L111.5 492.3 L113.1 486.2 L115.0 492.3 L116.0 505.4 L117.4 492.3 L120.0 499.3 L123.0 492.3 L124.7 509.7 L125.8 520.2 L128.5 524.5 L129.4 509.7 L130.3 504.5 L132.9 506.2 L134.7 495.8 L136.6 500.1 L138.5 492.3 L139.5 492.3 L140.1 461.8 L140.4 497.5 L142.1 509.7 L143.1 570.7 L143.9 537.6 L145.6 514.9 L148.1 544.6 L148.9 570.7 L149.7 537.6 L151.2 520.2 L152.7 553.3 L153.3 568.1 L154.5 544.6 L155.7 513.2 L158.2 512.3 L159.2 544.6 L160.8 575.9 L162.5 544.6 L164.7 560.3 L166.5 509.7 L167.0 467.0 L168.1 509.7 L169.0 534.1 L169.9 492.3 L172.3 471.4 L172.9 501.0 L173.8 514.9 L175.3 483.6 L175.8 438.5 L177.8 457.0 L180.6 420.0 L184.5 405.2 L186.2 416.3 L188.8 408.9 L191.8 420.0 L193.3 399.6 L194.8 379.3 L197.8 375.6 L199.0 360.7 L202.9 356.1 L204.8 383.0 L206.4 358.9 L209.1 390.4 L211.2 359.8 L213.5 392.2 L214.9 360.7 L217.1 335.7 L219.3 383.0 L221.1 344.1 L222.7 386.7 L225.4 371.9 L226.2 337.6 L227.0 375.6 L228.0 403.3 L230.6 407.0 L232.4 434.8 L233.4 460.7 L235.6 486.7 L237.6 471.9 L238.9 449.6 L239.6 440.4 L240.2 384.8 L240.8 440.4 L241.8 464.4 L243.7 438.5 L244.9 410.7 L246.7 475.6 L248.2 449.6 L250.0 427.4 L251.9 395.9 L254.9 397.8 L255.8 423.7 L256.7 388.5 L261.6 391.3 L263.6 412.6 L265.6 447.8 L268.2 447.8 L270.0 423.7 L271.0 397.8 L273.9 394.1 L274.8 440.4 L277.0 395.9 L278.4 431.1 L280.9 420.0 L283.5 408.9 L285.5 392.2 L287.3 414.4 L288.8 399.6 L291.4 412.6 L292.1 407.0 L295.8 414.4 L298.7 416.3 L300.1 423.7 L302.5 415.4 L312.5 415.4 L312.6 381.0 L314.9 376.1 L316.6 384.9 L318.8 394.7 L320.9 382.9 L321.2 435.9 L323.9 416.3 L327.2 436.9 L330.1 404.5 L331.8 430.0 L334.0 429.0 L336.3 402.5 L338.2 408.4 L340.2 422.2 L341.9 424.1 L343.4 398.6 L344.8 379.0 L347.2 382.0 L349.0 388.8 L351.0 384.9 L353.2 396.7 L356.5 378.0 L358.3 392.7 L360.2 375.1 L362.1 360.4 L365.2 358.4 L367.3 381.0 L369.3 361.4 L371.0 384.9 L373.2 371.2 L376.9 366.3 L378.1 398.6 L378.7 358.4 L381.8 369.2 L383.6 418.2 L386.0 371.2 L387.4 394.7 L389.1 400.6 L391.7 377.1 L393.0 396.7 L395.0 364.3 L396.7 398.6 L398.6 377.1 L400.5 392.7 L401.7 416.3 L404.5 372.2 L405.9 451.6 L407.8 454.5 L409.8 408.4 L411.1 435.9 L413.1 396.7 L414.7 424.1 L416.4 432.9 L417.9 388.8 L418.6 349.6 L419.2 388.8 L421.3 426.1 L422.7 370.2 L424.0 408.4 L425.3 447.6 L426.5 382.0 L427.8 442.7 L429.2 400.6 L429.9 432.0 L431.5 416.3 L432.9 447.6 L433.0 435.7 L434.3 494.5 L437.4 498.4 L439.3 506.3 L442.2 478.8 L444.1 508.2 L445.4 469.0 L448.1 498.4 L448.9 534.7 L449.8 484.7 L451.8 462.2 L453.0 514.1 L456.2 498.4 L457.3 539.6 L458.2 478.8 L462.2 469.0 L462.8 514.1 L463.0 463.1 L467.4 459.2 L468.4 496.5 L469.1 455.3 L472.0 429.8 L473.5 449.4 L475.7 434.7 L476.9 486.7 L478.5 456.3 L480.2 498.4 L481.9 537.6 L483.3 498.4 L485.3 529.8 L486.4 514.1 L489.6 522.0 L490.2 555.3 L490.8 529.8 L493.3 489.6 L494.6 541.6 L496.2 518.0 L499.0 507.3 L500.7 529.8 L501.9 510.2 L503.5 525.9 L505.8 535.7 L506.9 514.1 L508.6 527.8 L510.8 547.5 L512.9 518.0 L515.7 529.8 L517.1 517.1 L520.2 515.1 L522.4 529.8 L524.3 518.0 L525.9 532.7 L528.8 523.9 L531.0 536.7 L534.0 522.0 L536.9 536.7 L538.6 525.9 L541.3 528.8 L544.4 523.9 L546.6 530.8 L547.5 518.0 L549.5 525.9 L552.6 517.1 L554.6 529.8 L556.8 537.6 L558.8 511.2 L560.7 533.7 L562.0 551.4 L563.3 537.6 L565.2 535.7 L567.4 521.0 L569.1 539.6 L571.8 545.5 L574.0 541.6 L576.4 559.2 L578.2 530.8 L580.9 518.0 L583.6 519.0 L585.9 522.9 L588.1 507.3 L590.2 519.0 L594.2 506.3 L596.2 517.1 L599.8 501.4 L601.4 511.2 L604.1 509.2 L606.4 517.1 L608.9 536.7 L611.2 521.0 L613.1 556.3 L615.3 577.8 L616.3 528.8 L617.7 489.6 L619.8 519.0 L621.3 500.4 L622.7 560.2 L624.2 528.8 L626.1 562.2 L627.5 533.7 L629.8 572.0 L632.6 551.4 L634.4 587.6 L635.6 570.0 L637.6 626.9 L639.5 632.7 L641.4 636.7 L641.9 541.6 L642.4 587.6 L646.9 579.8 L647.5 543.5 L647.9 572.0 L650.9 560.2 L652.9 597.5 L653.9 615.1 L655.8 587.6 L657.6 611.2 L659.7 589.6 L661.8 620.0 L663.3 597.5 L666.7 614.1 L668.8 581.8 L670.8 591.6 L671.6 566.1 L674.3 568.0 L676.5 581.8 L677.4 544.5 L679.4 552.4 L680.7 505.3 L683.0 488.6 L684.1 528.8 L685.8 552.4 L687.5 509.2 L689.4 548.4 L690.5 523.9 L692.5 562.2 L694.9 526.9 L696.1 568.0 L698.2 587.6 L700.7 541.6 L701.8 579.8 L704.0 560.2 L704.4 699.4 L707.3 634.7 L709.3 695.5 L711.4 644.5 L712.6 628.8 L713.6 679.8 L714.9 736.7 L717.1 679.8 L718.8 740.6 L720.3 699.4 L723.9 701.4 L725.2 734.7 L726.2 666.1 L730.0 668.0 L731.4 703.3 L732.9 622.0 L734.5 693.5 L736.9 606.3 L738.5 652.4 L740.2 619.0 L742.4 615.1 L743.7 648.4 L745.7 608.2 L747.3 652.4 L749.1 628.8 L750.0 650.4 L751.9 622.9 L753.6 595.5 L756.0 603.3 L757.0 589.6 L759.4 585.7 L760.4 597.5 L763.3 595.5 L765.6 606.3 L768.6 606.3 L770.5 595.5 L773.2 601.4 L775.9 595.5 L779.0 591.6 L781.2 603.3 L781.8 574.3 L784.0 576.3 L785.9 593.9 L786.8 574.3 L789.9 568.4 L791.6 595.9 L793.0 601.8 L794.3 570.4 L796.4 590.0 L798.3 568.4 L801.5 584.1 L803.4 572.4 L805.6 554.7 L807.4 553.7 L808.9 566.5 L811.6 564.5 L814.0 574.3 L816.1 560.6 L817.8 580.2 L819.6 568.4 L822.6 582.2 L824.6 568.4 L827.5 576.3 L830.5 568.4 L833.7 574.3 L834.8 556.7 L837.6 568.4 L839.5 578.2 L840.8 592.0 L842.2 564.5 L844.0 541.0 L845.5 588.0 L846.7 593.9 L848.0 568.4 L849.3 535.1 L850.4 596.9 L852.0 537.1 L853.6 574.3 L855.3 537.1 L857.2 568.4 L859.8 539.0 L862.0 538.0 L863.5 568.4 L864.1 597.8 L864.5 564.5 L869.0 562.5 L870.0 605.7 L870.6 568.4 L873.2 546.9 L875.2 595.9 L876.9 568.4 L879.1 552.7 L881.3 586.1 L883.0 568.4 L885.2 553.7 L886.9 578.2 L888.1 541.0 L890.0 578.2 L891.4 560.6 L893.7 582.2 L896.2 607.6 L896.9 637.1 L897.6 599.8 L899.7 568.4 L901.4 625.3 L902.8 562.5 L904.4 584.1 L905.9 560.6 L907.9 582.2 L910.5 552.7 L912.7 582.2 L914.7 554.7 L915.7 590.0 L917.1 509.6 L918.5 584.1 L920.5 513.5 L919.8 485.1 L921.6 496.9 L923.1 415.5 L925.0 496.9 L926.7 436.1 L928.4 477.3 L930.3 499.8 L932.5 443.9 L934.4 467.5 L935.8 447.8 L937.7 496.9 L938.8 516.5 L940.7 449.8 L942.3 473.3 L944.1 445.9 L946.4 418.4 L947.6 387.1 L948.9 445.9 L950.2 398.8 L952.2 426.3 L955.0 387.1 L957.1 424.3 L959.0 385.1 L960.8 418.4 L962.8 434.1 L965.2 457.6 L966.3 408.6 L968.2 463.5 L970.0 400.8 L971.7 428.2 L973.8 392.9 L976.0 424.3 L977.8 404.7 L979.5 369.4 L982.3 365.5 L984.4 377.3 L986.2 361.6 L988.9 365.5 L991.9 373.3 L994.9 362.5 L996.4 387.1 L998.0 369.4 L999.7 387.1 L1001.7 376.3 L1004.7 387.1 L1006.8 396.9 L1008.7 383.1 L1011.8 391.0 L1015.1 387.1 L1016.4 348.8 L1017.6 369.4 L1019.0 353.7 L1021.4 375.3 L1023.4 389.0 L1024.9 408.6 L1026.5 379.2 L1027.6 410.6 L1029.4 398.8 L1031.2 413.5 L1033.2 396.9 L1034.6 412.5 L1037.0 382.2 L1038.1 406.7 L1039.7 396.9 L1042.1 409.6 L1044.8 396.9 L1046.8 404.7 L1048.6 391.0 L1050.2 408.6 L1052.2 417.5 L1054.1 398.8 L1055.9 412.5 L1057.6 398.8 L1059.0 406.7 L1060.0 405.3 L1063.2 405.3 L1065.5 434.7 L1067.3 419.0 L1070.3 434.7 L1072.2 419.0 L1074.6 396.5 L1076.9 430.8 L1078.8 394.5 L1080.4 417.1 L1081.7 454.3 L1083.2 434.7 L1084.9 448.4 L1087.3 416.1 L1089.6 470.0 L1091.6 424.9 L1093.1 481.8 L1094.5 442.5 L1096.5 473.9 L1099.1 438.6 L1101.4 487.6 L1103.2 456.3 L1105.1 526.9 L1107.0 468.0 L1109.1 475.9 L1111.5 522.9 L1113.2 491.6 L1115.4 507.3 L1117.2 468.0 L1116.7 485.7" fill="none" stroke="#FFA029" stroke-width="4.6" stroke-linejoin="round" stroke-linecap="round"/>
<path d="M54.8 559.4 L54.8 467.9 L57.4 465.8 L58.8 473.1 L61.8 476.6 L63.5 487.9 L66.1 475.7 L68.8 474.9 L69.6 488.8 L71.4 483.6 L73.1 497.5 L74.9 509.7 L75.7 525.4 L77.5 514.9 L79.2 527.1 L81.0 518.4 L82.7 546.3 L83.9 551.5 L84.4 588.1 L85.0 551.5 L85.7 527.1 L86.7 511.5 L88.5 521.9 L90.2 544.6 L92.3 530.6 L94.0 544.6 L95.4 509.7 L96.1 490.5 L99.3 490.5 L100.7 509.7 L101.9 523.7 L103.1 506.2 L104.1 494.0 L106.2 497.5 L108.8 490.5 L110.6 505.4 L112.3 492.3 L114.1 486.2 L115.8 492.3 L116.7 505.4 L118.4 492.3 L121.0 499.3 L123.7 492.3 L125.4 509.7 L126.3 520.2 L128.9 524.5 L130.3 509.7 L131.5 504.5 L134.1 506.2 L135.9 495.8 L137.6 500.1 L139.3 492.3 L140.1 492.3 L140.6 461.8 L141.0 497.5 L142.5 509.7 L143.2 570.7 L143.9 537.6 L145.8 514.9 L148.6 544.6 L149.3 570.7 L150.0 537.6 L151.5 520.2 L152.9 553.3 L153.6 568.1 L155.0 544.6 L155.9 513.2 L158.5 512.3 L159.9 544.6 L161.5 575.9 L163.2 544.6 L165.0 560.3 L166.5 509.7 L167.2 467.0 L168.5 509.7 L169.2 534.1 L169.9 492.3 L172.5 471.4 L173.3 501.0 L174.2 514.9 L175.6 483.6 L176.3 438.5 L178.5 457.0 L181.3 420.0 L185.0 405.2 L186.9 416.3 L189.6 408.9 L192.4 420.0 L194.3 399.6 L196.1 379.3 L198.9 375.6 L199.8 360.7 L203.5 356.1 L205.4 383.0 L207.2 358.9 L210.0 390.4 L211.9 359.8 L214.1 392.2 L215.6 360.7 L217.4 335.7 L219.3 383.0 L221.1 344.1 L223.0 386.7 L226.0 371.9 L226.7 337.6 L227.4 375.6 L228.5 403.3 L231.3 407.0 L233.1 434.8 L234.1 460.7 L235.9 486.7 L237.8 471.9 L239.6 449.6 L240.5 440.4 L240.9 384.8 L241.4 440.4 L242.4 464.4 L244.3 438.5 L245.2 410.7 L246.7 475.6 L248.5 449.6 L250.7 427.4 L252.6 395.9 L255.6 397.8 L256.3 423.7 L257.0 388.5 L261.9 391.3 L263.7 412.6 L265.6 447.8 L268.3 447.8 L270.2 423.7 L271.1 397.8 L273.9 394.1 L274.8 440.4 L277.0 395.9 L278.5 431.1 L281.3 420.0 L284.1 408.9 L285.9 392.2 L287.8 414.4 L289.6 399.6 L292.4 412.6 L293.3 407.0 L297.0 414.4 L299.8 416.3 L300.7 423.7 L302.6 415.4 L312.8 415.4 L313.3 381.0 L315.7 376.1 L317.6 384.9 L319.6 394.7 L321.2 382.9 L321.6 435.9 L324.5 416.3 L327.5 436.9 L330.4 404.5 L332.4 430.0 L334.3 429.0 L336.3 402.5 L338.2 408.4 L340.2 422.2 L342.2 424.1 L344.1 398.6 L345.5 379.0 L348.0 382.0 L350.0 388.8 L352.0 384.9 L353.9 396.7 L356.9 378.0 L358.8 392.7 L360.8 375.1 L362.7 360.4 L365.7 358.4 L367.6 381.0 L369.6 361.4 L371.6 384.9 L374.1 371.2 L377.7 366.3 L378.4 398.6 L379.1 358.4 L382.4 369.2 L383.9 418.2 L386.3 371.2 L388.2 394.7 L389.8 400.6 L392.2 377.1 L393.7 396.7 L395.5 364.3 L397.1 398.6 L399.0 377.1 L401.0 392.7 L402.0 416.3 L404.5 372.2 L405.9 451.6 L407.8 454.5 L409.8 408.4 L411.2 435.9 L413.1 396.7 L414.7 424.1 L416.7 432.9 L418.5 388.8 L419.2 349.6 L419.9 388.8 L421.6 426.1 L422.9 370.2 L424.5 408.4 L425.5 447.6 L426.5 382.0 L427.8 442.7 L429.4 400.6 L430.4 432.0 L431.8 416.3 L433.3 447.6 L433.7 435.7 L434.7 494.5 L437.6 498.4 L439.6 506.3 L442.5 478.8 L444.5 508.2 L445.9 469.0 L448.7 498.4 L449.4 534.7 L450.1 484.7 L452.0 462.2 L453.3 514.1 L456.9 498.4 L457.6 539.6 L458.3 478.8 L462.4 469.0 L463.1 514.1 L463.8 463.1 L468.3 459.2 L469.0 496.5 L469.7 455.3 L472.5 429.8 L473.9 449.4 L475.9 434.7 L476.9 486.7 L478.8 456.3 L480.8 498.4 L482.4 537.6 L483.7 498.4 L485.7 529.8 L486.7 514.1 L489.9 522.0 L490.6 555.3 L491.3 529.8 L493.5 489.6 L494.9 541.6 L496.9 518.0 L499.4 507.3 L500.8 529.8 L502.4 510.2 L504.3 525.9 L506.3 535.7 L507.3 514.1 L509.2 527.8 L511.2 547.5 L513.1 518.0 L516.1 529.8 L518.0 517.1 L521.0 515.1 L522.9 529.8 L524.9 518.0 L526.9 532.7 L529.8 523.9 L531.8 536.7 L534.7 522.0 L537.6 536.7 L539.6 525.9 L542.5 528.8 L545.5 523.9 L547.5 530.8 L548.4 518.0 L550.4 525.9 L553.3 517.1 L555.3 529.8 L557.3 537.6 L559.2 511.2 L561.2 533.7 L562.5 551.4 L564.1 537.6 L566.1 535.7 L568.0 521.0 L570.0 539.6 L572.9 545.5 L574.9 541.6 L576.9 559.2 L578.8 530.8 L581.8 518.0 L584.7 519.0 L586.7 522.9 L588.6 507.3 L590.6 519.0 L594.5 506.3 L596.5 517.1 L600.4 501.4 L602.4 511.2 L605.3 509.2 L607.3 517.1 L609.2 536.7 L611.2 521.0 L613.1 556.3 L615.5 577.8 L616.7 528.8 L618.0 489.6 L620.0 519.0 L621.4 500.4 L622.9 560.2 L624.9 528.8 L626.9 562.2 L627.8 533.7 L629.8 572.0 L632.7 551.4 L634.7 587.6 L635.7 570.0 L637.6 626.9 L639.6 632.7 L641.6 636.7 L642.2 541.6 L642.9 587.6 L647.1 579.8 L647.8 543.5 L648.5 572.0 L651.4 560.2 L653.3 597.5 L654.3 615.1 L656.3 587.6 L658.2 611.2 L660.2 589.6 L662.5 620.0 L664.1 597.5 L667.1 614.1 L669.0 581.8 L671.0 591.6 L672.0 566.1 L674.9 568.0 L676.9 581.8 L677.8 544.5 L679.8 552.4 L680.8 505.3 L683.3 488.6 L684.7 528.8 L686.1 552.4 L687.6 509.2 L689.6 548.4 L690.6 523.9 L692.5 562.2 L695.1 526.9 L696.5 568.0 L698.4 587.6 L701.0 541.6 L702.4 579.8 L704.3 560.2 L704.5 699.4 L707.5 634.7 L709.4 695.5 L711.4 644.5 L712.9 628.8 L714.3 679.8 L715.3 736.7 L717.3 679.8 L719.2 740.6 L721.2 699.4 L724.8 701.4 L725.5 734.7 L726.2 666.1 L730.0 668.0 L731.4 703.3 L732.9 622.0 L734.5 693.5 L736.9 606.3 L738.8 652.4 L740.8 619.0 L742.7 615.1 L743.7 648.4 L745.7 608.2 L747.6 652.4 L749.6 628.8 L750.6 650.4 L752.5 622.9 L754.1 595.5 L756.5 603.3 L757.5 589.6 L760.0 585.7 L761.4 597.5 L764.3 595.5 L766.3 606.3 L769.2 606.3 L771.2 595.5 L774.1 601.4 L777.1 595.5 L780.0 591.6 L781.6 603.3 L782.0 574.3 L784.3 576.3 L786.3 593.9 L787.3 574.3 L790.2 568.4 L791.6 595.9 L793.1 601.8 L794.7 570.4 L797.1 590.0 L799.0 568.4 L802.0 584.1 L803.9 572.4 L805.9 554.7 L807.8 553.7 L809.8 566.5 L812.7 564.5 L814.7 574.3 L816.7 560.6 L818.6 580.2 L820.6 568.4 L823.5 582.2 L825.5 568.4 L828.4 576.3 L831.4 568.4 L834.3 574.3 L835.3 556.7 L838.2 568.4 L839.8 578.2 L840.8 592.0 L842.2 564.5 L844.1 541.0 L845.7 588.0 L847.1 593.9 L848.6 568.4 L849.6 535.1 L850.4 596.9 L852.0 537.1 L853.9 574.3 L855.9 537.1 L857.5 568.4 L859.8 539.0 L862.2 538.0 L864.0 568.4 L864.7 597.8 L865.4 564.5 L869.9 562.5 L870.6 605.7 L871.3 568.4 L873.5 546.9 L875.5 595.9 L877.5 568.4 L879.4 552.7 L881.4 586.1 L883.3 568.4 L885.3 553.7 L886.9 578.2 L888.2 541.0 L890.2 578.2 L891.6 560.6 L894.1 582.2 L896.8 607.6 L897.5 637.1 L898.2 599.8 L900.0 568.4 L901.4 625.3 L902.9 562.5 L904.9 584.1 L906.9 560.6 L908.8 582.2 L910.8 552.7 L912.7 582.2 L914.7 554.7 L915.7 590.0 L917.1 509.6 L918.6 584.1 L920.6 513.5 L920.2 485.1 L922.2 496.9 L923.5 415.5 L925.1 496.9 L927.1 436.1 L929.0 477.3 L930.6 499.8 L932.5 443.9 L934.5 467.5 L935.9 447.8 L937.8 496.9 L938.8 516.5 L940.8 449.8 L942.7 473.3 L944.7 445.9 L946.7 418.4 L947.6 387.1 L949.0 445.9 L950.6 398.8 L952.9 426.3 L955.5 387.1 L957.5 424.3 L959.4 385.1 L961.4 418.4 L963.3 434.1 L965.3 457.6 L966.3 408.6 L968.2 463.5 L970.2 400.8 L972.2 428.2 L974.1 392.9 L976.1 424.3 L978.0 404.7 L980.0 369.4 L982.9 365.5 L984.9 377.3 L986.9 361.6 L989.8 365.5 L992.7 373.3 L995.3 362.5 L996.7 387.1 L998.6 369.4 L1000.6 387.1 L1002.5 376.3 L1005.5 387.1 L1007.5 396.9 L1009.4 383.1 L1012.4 391.0 L1015.3 387.1 L1016.7 348.8 L1018.2 369.4 L1019.6 353.7 L1022.2 375.3 L1024.1 389.0 L1025.1 408.6 L1026.7 379.2 L1028.0 410.6 L1030.0 398.8 L1032.0 413.5 L1033.9 396.9 L1034.9 412.5 L1037.3 382.2 L1038.8 406.7 L1040.8 396.9 L1043.1 409.6 L1045.7 396.9 L1047.6 404.7 L1049.0 391.0 L1050.6 408.6 L1052.5 417.5 L1054.5 398.8 L1056.5 412.5 L1058.4 398.8 L1060.0 406.7 L1061.2 405.3 L1064.1 405.3 L1066.1 434.7 L1068.0 419.0 L1071.0 434.7 L1072.9 419.0 L1074.9 396.5 L1076.9 430.8 L1078.8 394.5 L1080.4 417.1 L1081.8 454.3 L1083.7 434.7 L1085.7 448.4 L1087.6 416.1 L1089.6 470.0 L1091.6 424.9 L1093.5 481.8 L1095.5 442.5 L1097.5 473.9 L1099.4 438.6 L1101.4 487.6 L1103.3 456.3 L1105.3 526.9 L1107.3 468.0 L1109.2 475.9 L1111.8 522.9 L1113.7 491.6 L1115.7 507.3 L1117.5 468.0 L1117.5 485.7" fill="none" stroke="#FFA029" stroke-width="4.6" stroke-linejoin="round" stroke-linecap="round"/>
<text class="t" x="1205" y="251.5" font-size="26.8" stroke="#000" stroke-width="0.25" text-anchor="end" textLength="164" lengthAdjust="spacingAndGlyphs">$67.5 a barrel</text>
<text class="t" x="1205" y="346.7" font-size="26.8" stroke="#000" stroke-width="0.25" text-anchor="end" textLength="50.7" lengthAdjust="spacingAndGlyphs">67.0</text>
<text class="t" x="1205" y="441.9" font-size="26.8" stroke="#000" stroke-width="0.25" text-anchor="end" textLength="50.7" lengthAdjust="spacingAndGlyphs">66.5</text>
<text class="t" x="1205" y="537.1" font-size="26.8" stroke="#000" stroke-width="0.25" text-anchor="end" textLength="50.7" lengthAdjust="spacingAndGlyphs">66.0</text>
<text class="t" x="1205" y="632.4" font-size="26.8" stroke="#000" stroke-width="0.25" text-anchor="end" textLength="50.7" lengthAdjust="spacingAndGlyphs">65.5</text>
<text class="t" x="1205" y="728.1" font-size="26.8" stroke="#000" stroke-width="0.25" text-anchor="end" textLength="50.7" lengthAdjust="spacingAndGlyphs">65.0</text>
<text class="t" x="28" y="783.1" font-size="26.5" stroke="#000" stroke-width="0.25" textLength="74.5" lengthAdjust="spacingAndGlyphs">00:00</text>
<text class="t" x="194.8" y="783.1" font-size="26.5" stroke="#000" stroke-width="0.25" text-anchor="middle" textLength="65.2" lengthAdjust="spacingAndGlyphs">12:00</text>
<text class="t" x="431.2" y="783.1" font-size="26.5" stroke="#000" stroke-width="0.25" text-anchor="middle" textLength="65.2" lengthAdjust="spacingAndGlyphs">12:00</text>
<text class="t" x="665.7" y="783.1" font-size="26.5" stroke="#000" stroke-width="0.25" text-anchor="middle" textLength="65.2" lengthAdjust="spacingAndGlyphs">12:00</text>
<text class="t" x="900.4" y="783.1" font-size="26.5" stroke="#000" stroke-width="0.25" text-anchor="middle" textLength="65.2" lengthAdjust="spacingAndGlyphs">12:00</text>
<text class="g" x="188.5" y="815.9" font-size="27.3" stroke="#606060" stroke-width="0.2" text-anchor="middle" textLength="93" lengthAdjust="spacing">Aug. 11</text>
<text class="g" x="429.4" y="815.9" font-size="27.3" stroke="#606060" stroke-width="0.2" text-anchor="middle" textLength="97.3" lengthAdjust="spacing">Aug. 12</text>
<text class="g" x="664.0" y="815.9" font-size="27.3" stroke="#606060" stroke-width="0.2" text-anchor="middle" textLength="97.3" lengthAdjust="spacing">Aug. 13</text>
<text class="g" x="898.6" y="815.9" font-size="27.3" stroke="#606060" stroke-width="0.2" text-anchor="middle" textLength="97.3" lengthAdjust="spacing">Aug. 14</text>
<line x1="65.4" y1="796.5" x2="65.4" y2="822" stroke="#5a5a5a" stroke-width="1.8"/>
<line x1="312.6" y1="796.5" x2="312.6" y2="822" stroke="#5a5a5a" stroke-width="1.8"/>
<line x1="547.1" y1="796.5" x2="547.1" y2="822" stroke="#5a5a5a" stroke-width="1.8"/>
<line x1="781.8" y1="796.5" x2="781.8" y2="822" stroke="#5a5a5a" stroke-width="1.8"/>
<line x1="1016.5" y1="796.5" x2="1016.5" y2="822" stroke="#5a5a5a" stroke-width="1.8"/>
<text class="t" x="27" y="885.5" font-size="27.5" stroke="#000" stroke-width="0.3" textLength="144" lengthAdjust="spacingAndGlyphs">Source: ICE</text>
<text class="t" x="1209.5" y="883.8" font-size="27.8" font-weight="700" text-anchor="end" textLength="147" lengthAdjust="spacingAndGlyphs">Bloomberg</text>
</svg></body></html>
